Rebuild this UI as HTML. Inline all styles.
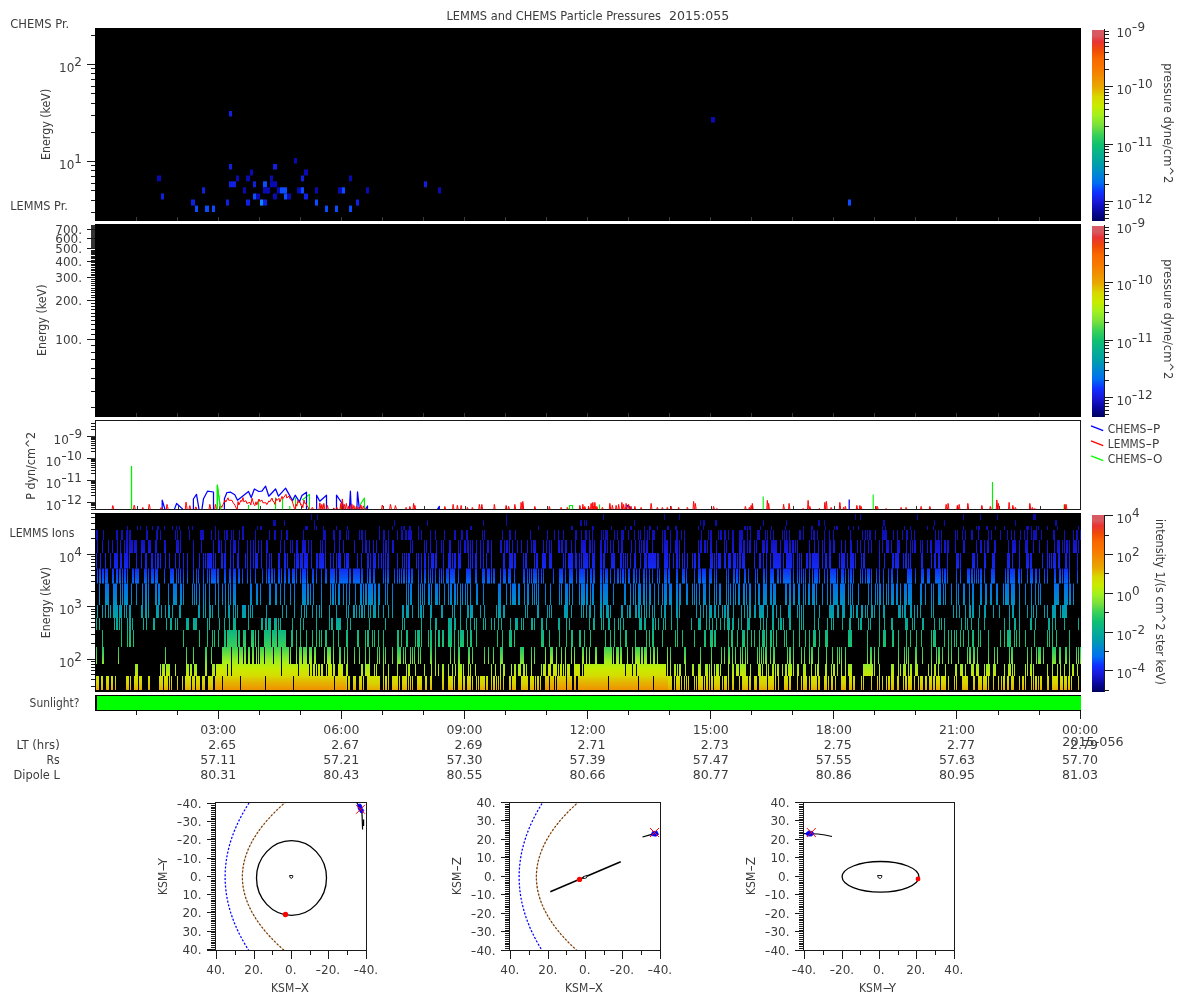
<!DOCTYPE html>
<html><head><meta charset="utf-8"><title>LEMMS and CHEMS Particle Pressures 2015:055</title>
<style>
html,body{margin:0;padding:0;background:#fff}
svg{display:block}
text{font-family:"DejaVu Sans","Liberation Sans",sans-serif;fill:#3c3c3c}
</style></head><body>
<svg width="1200" height="1000" viewBox="0 0 1200 1000">
<rect width="1200" height="1000" fill="#fff"/>
<defs>
<linearGradient id="cb" x1="0" y1="0" x2="0" y2="1">
<stop offset="0.0" stop-color="#d85a62"/>
<stop offset="0.03" stop-color="#d85a60"/>
<stop offset="0.06" stop-color="#e83434"/>
<stop offset="0.105" stop-color="#f04a08"/>
<stop offset="0.15" stop-color="#f86800"/>
<stop offset="0.2" stop-color="#f87800"/>
<stop offset="0.25" stop-color="#f09000"/>
<stop offset="0.3" stop-color="#e8a800"/>
<stop offset="0.35" stop-color="#d8d800"/>
<stop offset="0.4" stop-color="#c8ec00"/>
<stop offset="0.45" stop-color="#a0f020"/>
<stop offset="0.5" stop-color="#78e03c"/>
<stop offset="0.55" stop-color="#38d058"/>
<stop offset="0.6" stop-color="#10c070"/>
<stop offset="0.65" stop-color="#08b090"/>
<stop offset="0.7" stop-color="#00a0a8"/>
<stop offset="0.75" stop-color="#0088d0"/>
<stop offset="0.8" stop-color="#0070f0"/>
<stop offset="0.85" stop-color="#1030ff"/>
<stop offset="0.9" stop-color="#1818d8"/>
<stop offset="0.95" stop-color="#0808a0"/>
<stop offset="1.0" stop-color="#000060"/>
</linearGradient>
</defs>
<text y="20" font-size="12"><tspan x="446.5" textLength="214.4" lengthAdjust="spacingAndGlyphs">LEMMS and CHEMS Particle Pressures</tspan> <tspan x="669" textLength="60.2" lengthAdjust="spacingAndGlyphs">2015:055</tspan></text>
<text x="10.3" y="27.9" text-anchor="start" font-size="12" textLength="59" lengthAdjust="spacingAndGlyphs">CHEMS Pr.</text>
<text x="10.3" y="209.6" text-anchor="start" font-size="12" textLength="57.6" lengthAdjust="spacingAndGlyphs">LEMMS Pr.</text>
<text x="9.6" y="537" text-anchor="start" font-size="12" textLength="64.8" lengthAdjust="spacingAndGlyphs">LEMMS Ions</text>
<text x="29.6" y="706.8" text-anchor="start" font-size="12" textLength="49.8" lengthAdjust="spacingAndGlyphs">Sunlight?</text>
<rect x="95" y="28" width="986" height="193" fill="#000"/>
<rect x="91" y="35" width="4" height="1" fill="#1a1a1a"/>
<rect x="87" y="64" width="8" height="1" fill="#1a1a1a"/>
<rect x="91" y="68" width="4" height="1" fill="#1a1a1a"/>
<rect x="91" y="73" width="4" height="1" fill="#1a1a1a"/>
<rect x="91" y="79" width="4" height="1" fill="#1a1a1a"/>
<rect x="91" y="86" width="4" height="1" fill="#1a1a1a"/>
<rect x="91" y="93" width="4" height="1" fill="#1a1a1a"/>
<rect x="91" y="103" width="4" height="1" fill="#1a1a1a"/>
<rect x="91" y="115" width="4" height="1" fill="#1a1a1a"/>
<rect x="91" y="132" width="4" height="1" fill="#1a1a1a"/>
<rect x="87" y="161" width="8" height="1" fill="#1a1a1a"/>
<rect x="91" y="165" width="4" height="1" fill="#1a1a1a"/>
<rect x="91" y="170" width="4" height="1" fill="#1a1a1a"/>
<rect x="91" y="176" width="4" height="1" fill="#1a1a1a"/>
<rect x="91" y="183" width="4" height="1" fill="#1a1a1a"/>
<rect x="91" y="190" width="4" height="1" fill="#1a1a1a"/>
<rect x="91" y="200" width="4" height="1" fill="#1a1a1a"/>
<rect x="91" y="212" width="4" height="1" fill="#1a1a1a"/>
<text x="59.09" y="71.7" font-size="12">10<tspan dy="-6">2</tspan></text>
<text x="59.09" y="168.7" font-size="12">10<tspan dy="-6">1</tspan></text>
<text transform="translate(50 124.4) rotate(-90)" x="-35.65" y="0" font-size="12" textLength="71.3" lengthAdjust="spacingAndGlyphs">Energy (keV)</text>
<rect x="136" y="217" width="1" height="4" fill="#3a3a3a"/>
<rect x="177" y="217" width="1" height="4" fill="#3a3a3a"/>
<rect x="218" y="217" width="1" height="4" fill="#3a3a3a"/>
<rect x="259" y="217" width="1" height="4" fill="#3a3a3a"/>
<rect x="300" y="217" width="1" height="4" fill="#3a3a3a"/>
<rect x="341" y="217" width="1" height="4" fill="#3a3a3a"/>
<rect x="382" y="217" width="1" height="4" fill="#3a3a3a"/>
<rect x="423" y="217" width="1" height="4" fill="#3a3a3a"/>
<rect x="464" y="217" width="1" height="4" fill="#3a3a3a"/>
<rect x="505" y="217" width="1" height="4" fill="#3a3a3a"/>
<rect x="546" y="217" width="1" height="4" fill="#3a3a3a"/>
<rect x="587" y="217" width="1" height="4" fill="#3a3a3a"/>
<rect x="628" y="217" width="1" height="4" fill="#3a3a3a"/>
<rect x="669" y="217" width="1" height="4" fill="#3a3a3a"/>
<rect x="710" y="217" width="1" height="4" fill="#3a3a3a"/>
<rect x="751" y="217" width="1" height="4" fill="#3a3a3a"/>
<rect x="792" y="217" width="1" height="4" fill="#3a3a3a"/>
<rect x="833" y="217" width="1" height="4" fill="#3a3a3a"/>
<rect x="874" y="217" width="1" height="4" fill="#3a3a3a"/>
<rect x="915" y="217" width="1" height="4" fill="#3a3a3a"/>
<rect x="956" y="217" width="1" height="4" fill="#3a3a3a"/>
<rect x="998" y="217" width="1" height="4" fill="#3a3a3a"/>
<rect x="1039" y="217" width="1" height="4" fill="#3a3a3a"/>
<rect x="229" y="111" width="3" height="5.5" fill="#1020e0"/>
<rect x="711" y="117" width="4" height="5.5" fill="#0a0ab4"/>
<rect x="294" y="158" width="3" height="5.5" fill="#0a0ab4"/>
<rect x="229" y="164" width="3" height="5.5" fill="#1020e0"/>
<rect x="273" y="164" width="4" height="5.5" fill="#1020e0"/>
<rect x="250" y="169.5" width="3" height="6" fill="#0a0ab4"/>
<rect x="304" y="169.5" width="4" height="6" fill="#0a0ab4"/>
<rect x="157" y="175.5" width="4" height="5.8" fill="#0a0ab4"/>
<rect x="236" y="175.5" width="3" height="5.8" fill="#0a0ab4"/>
<rect x="246" y="175.5" width="4" height="5.8" fill="#0a0ab4"/>
<rect x="270" y="175.5" width="3" height="5.8" fill="#0a0ab4"/>
<rect x="301" y="175.5" width="3" height="5.8" fill="#1020e0"/>
<rect x="349" y="175.5" width="3" height="5.8" fill="#0a0ab4"/>
<rect x="229" y="181.3" width="7" height="6" fill="#1020e0"/>
<rect x="253" y="181.3" width="3" height="6" fill="#1020e0"/>
<rect x="263" y="181.3" width="4" height="6" fill="#0a4cff"/>
<rect x="270" y="181.3" width="7" height="6" fill="#0a0ab4"/>
<rect x="424" y="181.3" width="3" height="6" fill="#1020e0"/>
<rect x="202" y="187.3" width="3" height="6.2" fill="#1020e0"/>
<rect x="243" y="187.3" width="3" height="6.2" fill="#0a0ab4"/>
<rect x="263" y="187.3" width="7" height="6.2" fill="#0a0ab4"/>
<rect x="277" y="187.3" width="3" height="6.2" fill="#0a0ab4"/>
<rect x="280" y="187.3" width="7" height="6.2" fill="#0a4cff"/>
<rect x="297" y="187.3" width="4" height="6.2" fill="#0a0ab4"/>
<rect x="301" y="187.3" width="3" height="6.2" fill="#0a4cff"/>
<rect x="315" y="187.3" width="3" height="6.2" fill="#0a0ab4"/>
<rect x="338" y="187.3" width="4" height="6.2" fill="#0a0ab4"/>
<rect x="342" y="187.3" width="3" height="6.2" fill="#0a4cff"/>
<rect x="366" y="187.3" width="3" height="6.2" fill="#0a0ab4"/>
<rect x="438" y="187.3" width="3" height="6.2" fill="#0a0ab4"/>
<rect x="161" y="193.5" width="3" height="6" fill="#1020e0"/>
<rect x="253" y="193.5" width="3" height="6" fill="#0a4cff"/>
<rect x="256" y="193.5" width="4" height="6" fill="#0a0ab4"/>
<rect x="273" y="193.5" width="4" height="6" fill="#0a0ab4"/>
<rect x="284" y="193.5" width="3" height="6" fill="#0a4cff"/>
<rect x="287" y="193.5" width="4" height="6" fill="#0a0ab4"/>
<rect x="304" y="193.5" width="4" height="6" fill="#1020e0"/>
<rect x="191" y="199.5" width="4" height="6.1" fill="#1020e0"/>
<rect x="226" y="199.5" width="3" height="6.1" fill="#1020e0"/>
<rect x="246" y="199.5" width="4" height="6.1" fill="#1020e0"/>
<rect x="260" y="199.5" width="3" height="6.1" fill="#0a8cff"/>
<rect x="263" y="199.5" width="4" height="6.1" fill="#1020e0"/>
<rect x="315" y="199.5" width="3" height="6.1" fill="#0a4cff"/>
<rect x="356" y="199.5" width="3" height="6.1" fill="#1020e0"/>
<rect x="848" y="199.5" width="3" height="6.1" fill="#0a4cff"/>
<rect x="195" y="205.6" width="3" height="6.4" fill="#0a4cff"/>
<rect x="205" y="205.6" width="4" height="6.4" fill="#0a4cff"/>
<rect x="212" y="205.6" width="3" height="6.4" fill="#0a4cff"/>
<rect x="325" y="205.6" width="3" height="6.4" fill="#0a4cff"/>
<rect x="335" y="205.6" width="3" height="6.4" fill="#0a4cff"/>
<rect x="349" y="205.6" width="3" height="6.4" fill="#0a4cff"/>
<rect x="1092" y="30" width="12" height="191" fill="url(#cb)"/>
<rect x="1104" y="29" width="1" height="192" fill="#1a1a1a"/>
<rect x="1104" y="86" width="9" height="1" fill="#1a1a1a"/>
<rect x="1104" y="69" width="5" height="1" fill="#1a1a1a"/>
<rect x="1104" y="59" width="5" height="1" fill="#1a1a1a"/>
<rect x="1104" y="52" width="5" height="1" fill="#1a1a1a"/>
<rect x="1104" y="46" width="5" height="1" fill="#1a1a1a"/>
<rect x="1104" y="42" width="5" height="1" fill="#1a1a1a"/>
<rect x="1104" y="38" width="5" height="1" fill="#1a1a1a"/>
<rect x="1104" y="34" width="5" height="1" fill="#1a1a1a"/>
<rect x="1104" y="31" width="5" height="1" fill="#1a1a1a"/>
<rect x="1104" y="144" width="9" height="1" fill="#1a1a1a"/>
<rect x="1104" y="126" width="5" height="1" fill="#1a1a1a"/>
<rect x="1104" y="116" width="5" height="1" fill="#1a1a1a"/>
<rect x="1104" y="109" width="5" height="1" fill="#1a1a1a"/>
<rect x="1104" y="103" width="5" height="1" fill="#1a1a1a"/>
<rect x="1104" y="99" width="5" height="1" fill="#1a1a1a"/>
<rect x="1104" y="95" width="5" height="1" fill="#1a1a1a"/>
<rect x="1104" y="92" width="5" height="1" fill="#1a1a1a"/>
<rect x="1104" y="89" width="5" height="1" fill="#1a1a1a"/>
<rect x="1104" y="201" width="9" height="1" fill="#1a1a1a"/>
<rect x="1104" y="184" width="5" height="1" fill="#1a1a1a"/>
<rect x="1104" y="174" width="5" height="1" fill="#1a1a1a"/>
<rect x="1104" y="166" width="5" height="1" fill="#1a1a1a"/>
<rect x="1104" y="161" width="5" height="1" fill="#1a1a1a"/>
<rect x="1104" y="156" width="5" height="1" fill="#1a1a1a"/>
<rect x="1104" y="152" width="5" height="1" fill="#1a1a1a"/>
<rect x="1104" y="149" width="5" height="1" fill="#1a1a1a"/>
<rect x="1104" y="146" width="5" height="1" fill="#1a1a1a"/>
<rect x="1104" y="218" width="5" height="1" fill="#1a1a1a"/>
<rect x="1104" y="214" width="5" height="1" fill="#1a1a1a"/>
<rect x="1104" y="210" width="5" height="1" fill="#1a1a1a"/>
<rect x="1104" y="207" width="5" height="1" fill="#1a1a1a"/>
<rect x="1104" y="204" width="5" height="1" fill="#1a1a1a"/>
<text x="1116.6" y="36.7" font-size="12">10<tspan dy="-6" textLength="5.6" lengthAdjust="spacingAndGlyphs">-</tspan><tspan>9</tspan></text>
<text x="1116.6" y="93.7" font-size="12">10<tspan dy="-6" textLength="5.6" lengthAdjust="spacingAndGlyphs">-</tspan><tspan>10</tspan></text>
<text x="1116.6" y="151.7" font-size="12">10<tspan dy="-6" textLength="5.6" lengthAdjust="spacingAndGlyphs">-</tspan><tspan>11</tspan></text>
<text x="1116.6" y="208.7" font-size="12">10<tspan dy="-6" textLength="5.6" lengthAdjust="spacingAndGlyphs">-</tspan><tspan>12</tspan></text>
<text transform="translate(1164 123.3) rotate(90)" x="-60" y="0" font-size="12" textLength="120" lengthAdjust="spacingAndGlyphs">pressure dyne/cm^2</text>
<rect x="1092" y="226" width="12" height="191" fill="url(#cb)"/>
<rect x="1104" y="225" width="1" height="192" fill="#1a1a1a"/>
<rect x="1104" y="282" width="9" height="1" fill="#1a1a1a"/>
<rect x="1104" y="265" width="5" height="1" fill="#1a1a1a"/>
<rect x="1104" y="255" width="5" height="1" fill="#1a1a1a"/>
<rect x="1104" y="248" width="5" height="1" fill="#1a1a1a"/>
<rect x="1104" y="242" width="5" height="1" fill="#1a1a1a"/>
<rect x="1104" y="238" width="5" height="1" fill="#1a1a1a"/>
<rect x="1104" y="234" width="5" height="1" fill="#1a1a1a"/>
<rect x="1104" y="230" width="5" height="1" fill="#1a1a1a"/>
<rect x="1104" y="227" width="5" height="1" fill="#1a1a1a"/>
<rect x="1104" y="340" width="9" height="1" fill="#1a1a1a"/>
<rect x="1104" y="322" width="5" height="1" fill="#1a1a1a"/>
<rect x="1104" y="312" width="5" height="1" fill="#1a1a1a"/>
<rect x="1104" y="305" width="5" height="1" fill="#1a1a1a"/>
<rect x="1104" y="299" width="5" height="1" fill="#1a1a1a"/>
<rect x="1104" y="295" width="5" height="1" fill="#1a1a1a"/>
<rect x="1104" y="291" width="5" height="1" fill="#1a1a1a"/>
<rect x="1104" y="288" width="5" height="1" fill="#1a1a1a"/>
<rect x="1104" y="285" width="5" height="1" fill="#1a1a1a"/>
<rect x="1104" y="397" width="9" height="1" fill="#1a1a1a"/>
<rect x="1104" y="380" width="5" height="1" fill="#1a1a1a"/>
<rect x="1104" y="370" width="5" height="1" fill="#1a1a1a"/>
<rect x="1104" y="362" width="5" height="1" fill="#1a1a1a"/>
<rect x="1104" y="357" width="5" height="1" fill="#1a1a1a"/>
<rect x="1104" y="352" width="5" height="1" fill="#1a1a1a"/>
<rect x="1104" y="348" width="5" height="1" fill="#1a1a1a"/>
<rect x="1104" y="345" width="5" height="1" fill="#1a1a1a"/>
<rect x="1104" y="342" width="5" height="1" fill="#1a1a1a"/>
<rect x="1104" y="414" width="5" height="1" fill="#1a1a1a"/>
<rect x="1104" y="410" width="5" height="1" fill="#1a1a1a"/>
<rect x="1104" y="406" width="5" height="1" fill="#1a1a1a"/>
<rect x="1104" y="403" width="5" height="1" fill="#1a1a1a"/>
<rect x="1104" y="400" width="5" height="1" fill="#1a1a1a"/>
<text x="1116.6" y="232.7" font-size="12">10<tspan dy="-6" textLength="5.6" lengthAdjust="spacingAndGlyphs">-</tspan><tspan>9</tspan></text>
<text x="1116.6" y="289.7" font-size="12">10<tspan dy="-6" textLength="5.6" lengthAdjust="spacingAndGlyphs">-</tspan><tspan>10</tspan></text>
<text x="1116.6" y="347.7" font-size="12">10<tspan dy="-6" textLength="5.6" lengthAdjust="spacingAndGlyphs">-</tspan><tspan>11</tspan></text>
<text x="1116.6" y="404.7" font-size="12">10<tspan dy="-6" textLength="5.6" lengthAdjust="spacingAndGlyphs">-</tspan><tspan>12</tspan></text>
<text transform="translate(1164 319.3) rotate(90)" x="-60" y="0" font-size="12" textLength="120" lengthAdjust="spacingAndGlyphs">pressure dyne/cm^2</text>
<rect x="95" y="224" width="986" height="193" fill="#000"/>
<rect x="91" y="407" width="4" height="1" fill="#1a1a1a"/>
<rect x="91" y="391" width="4" height="1" fill="#1a1a1a"/>
<rect x="91" y="378" width="4" height="1" fill="#1a1a1a"/>
<rect x="91" y="368" width="4" height="1" fill="#1a1a1a"/>
<rect x="91" y="359" width="4" height="1" fill="#1a1a1a"/>
<rect x="91" y="352" width="4" height="1" fill="#1a1a1a"/>
<rect x="91" y="345" width="4" height="1" fill="#1a1a1a"/>
<rect x="91" y="339" width="4" height="1" fill="#1a1a1a"/>
<rect x="91" y="334" width="4" height="1" fill="#1a1a1a"/>
<rect x="91" y="329" width="4" height="1" fill="#1a1a1a"/>
<rect x="91" y="324" width="4" height="1" fill="#1a1a1a"/>
<rect x="91" y="320" width="4" height="1" fill="#1a1a1a"/>
<rect x="91" y="316" width="4" height="1" fill="#1a1a1a"/>
<rect x="91" y="313" width="4" height="1" fill="#1a1a1a"/>
<rect x="91" y="309" width="4" height="1" fill="#1a1a1a"/>
<rect x="91" y="306" width="4" height="1" fill="#1a1a1a"/>
<rect x="91" y="303" width="4" height="1" fill="#1a1a1a"/>
<rect x="91" y="300" width="4" height="1" fill="#1a1a1a"/>
<rect x="91" y="297" width="4" height="1" fill="#1a1a1a"/>
<rect x="91" y="295" width="4" height="1" fill="#1a1a1a"/>
<rect x="91" y="292" width="4" height="1" fill="#1a1a1a"/>
<rect x="91" y="290" width="4" height="1" fill="#1a1a1a"/>
<rect x="91" y="288" width="4" height="1" fill="#1a1a1a"/>
<rect x="91" y="285" width="4" height="1" fill="#1a1a1a"/>
<rect x="91" y="283" width="4" height="1" fill="#1a1a1a"/>
<rect x="91" y="281" width="4" height="1" fill="#1a1a1a"/>
<rect x="91" y="279" width="4" height="1" fill="#1a1a1a"/>
<rect x="91" y="277" width="4" height="1" fill="#1a1a1a"/>
<rect x="91" y="275" width="4" height="1" fill="#1a1a1a"/>
<rect x="91" y="274" width="4" height="1" fill="#1a1a1a"/>
<rect x="91" y="272" width="4" height="1" fill="#1a1a1a"/>
<rect x="91" y="270" width="4" height="1" fill="#1a1a1a"/>
<rect x="91" y="269" width="4" height="1" fill="#1a1a1a"/>
<rect x="91" y="267" width="4" height="1" fill="#1a1a1a"/>
<rect x="91" y="265" width="4" height="1" fill="#1a1a1a"/>
<rect x="91" y="264" width="4" height="1" fill="#1a1a1a"/>
<rect x="91" y="262" width="4" height="1" fill="#1a1a1a"/>
<rect x="91" y="261" width="4" height="1" fill="#1a1a1a"/>
<rect x="91" y="260" width="4" height="1" fill="#1a1a1a"/>
<rect x="91" y="258" width="4" height="1" fill="#1a1a1a"/>
<rect x="91" y="257" width="4" height="1" fill="#1a1a1a"/>
<rect x="91" y="256" width="4" height="1" fill="#1a1a1a"/>
<rect x="91" y="254" width="4" height="1" fill="#1a1a1a"/>
<rect x="91" y="253" width="4" height="1" fill="#1a1a1a"/>
<rect x="91" y="252" width="4" height="1" fill="#1a1a1a"/>
<rect x="91" y="251" width="4" height="1" fill="#1a1a1a"/>
<rect x="91" y="250" width="4" height="1" fill="#1a1a1a"/>
<rect x="91" y="248" width="4" height="1" fill="#1a1a1a"/>
<rect x="91" y="247" width="4" height="1" fill="#1a1a1a"/>
<rect x="91" y="246" width="4" height="1" fill="#1a1a1a"/>
<rect x="91" y="245" width="4" height="1" fill="#1a1a1a"/>
<rect x="91" y="244" width="4" height="1" fill="#1a1a1a"/>
<rect x="91" y="243" width="4" height="1" fill="#1a1a1a"/>
<rect x="91" y="242" width="4" height="1" fill="#1a1a1a"/>
<rect x="91" y="241" width="4" height="1" fill="#1a1a1a"/>
<rect x="91" y="240" width="4" height="1" fill="#1a1a1a"/>
<rect x="91" y="239" width="4" height="1" fill="#1a1a1a"/>
<rect x="91" y="238" width="4" height="1" fill="#1a1a1a"/>
<rect x="91" y="237" width="4" height="1" fill="#1a1a1a"/>
<rect x="91" y="236" width="4" height="1" fill="#1a1a1a"/>
<rect x="91" y="235" width="4" height="1" fill="#1a1a1a"/>
<rect x="91" y="234" width="4" height="1" fill="#1a1a1a"/>
<rect x="91" y="234" width="4" height="1" fill="#1a1a1a"/>
<rect x="91" y="233" width="4" height="1" fill="#1a1a1a"/>
<rect x="91" y="232" width="4" height="1" fill="#1a1a1a"/>
<rect x="91" y="231" width="4" height="1" fill="#1a1a1a"/>
<rect x="91" y="230" width="4" height="1" fill="#1a1a1a"/>
<rect x="91" y="229" width="4" height="1" fill="#1a1a1a"/>
<rect x="91" y="229" width="4" height="1" fill="#1a1a1a"/>
<rect x="91" y="228" width="4" height="1" fill="#1a1a1a"/>
<rect x="91" y="227" width="4" height="1" fill="#1a1a1a"/>
<rect x="91" y="226" width="4" height="1" fill="#1a1a1a"/>
<rect x="91" y="226" width="4" height="1" fill="#1a1a1a"/>
<rect x="91" y="225" width="4" height="24" fill="#333"/>
<rect x="87" y="339" width="8" height="1" fill="#1a1a1a"/>
<text x="82" y="343.5" text-anchor="end" font-size="12">100.</text>
<rect x="87" y="300" width="8" height="1" fill="#1a1a1a"/>
<text x="82" y="304.5" text-anchor="end" font-size="12">200.</text>
<rect x="87" y="277" width="8" height="1" fill="#1a1a1a"/>
<text x="82" y="281.5" text-anchor="end" font-size="12">300.</text>
<rect x="87" y="261" width="8" height="1" fill="#1a1a1a"/>
<text x="82" y="265.5" text-anchor="end" font-size="12">400.</text>
<rect x="87" y="248" width="8" height="1" fill="#1a1a1a"/>
<text x="82" y="252.5" text-anchor="end" font-size="12">500.</text>
<rect x="87" y="238" width="8" height="1" fill="#1a1a1a"/>
<text x="82" y="242.5" text-anchor="end" font-size="12">600.</text>
<rect x="87" y="229" width="8" height="1" fill="#1a1a1a"/>
<text x="82" y="233.5" text-anchor="end" font-size="12">700.</text>
<text transform="translate(46.3 320.2) rotate(-90)" x="-35.75" y="0" font-size="12" textLength="71.5" lengthAdjust="spacingAndGlyphs">Energy (keV)</text>
<rect x="136" y="413" width="1" height="4" fill="#3a3a3a"/>
<rect x="177" y="413" width="1" height="4" fill="#3a3a3a"/>
<rect x="218" y="413" width="1" height="4" fill="#3a3a3a"/>
<rect x="259" y="413" width="1" height="4" fill="#3a3a3a"/>
<rect x="300" y="413" width="1" height="4" fill="#3a3a3a"/>
<rect x="341" y="413" width="1" height="4" fill="#3a3a3a"/>
<rect x="382" y="413" width="1" height="4" fill="#3a3a3a"/>
<rect x="423" y="413" width="1" height="4" fill="#3a3a3a"/>
<rect x="464" y="413" width="1" height="4" fill="#3a3a3a"/>
<rect x="505" y="413" width="1" height="4" fill="#3a3a3a"/>
<rect x="546" y="413" width="1" height="4" fill="#3a3a3a"/>
<rect x="587" y="413" width="1" height="4" fill="#3a3a3a"/>
<rect x="628" y="413" width="1" height="4" fill="#3a3a3a"/>
<rect x="669" y="413" width="1" height="4" fill="#3a3a3a"/>
<rect x="710" y="413" width="1" height="4" fill="#3a3a3a"/>
<rect x="751" y="413" width="1" height="4" fill="#3a3a3a"/>
<rect x="792" y="413" width="1" height="4" fill="#3a3a3a"/>
<rect x="833" y="413" width="1" height="4" fill="#3a3a3a"/>
<rect x="874" y="413" width="1" height="4" fill="#3a3a3a"/>
<rect x="915" y="413" width="1" height="4" fill="#3a3a3a"/>
<rect x="956" y="413" width="1" height="4" fill="#3a3a3a"/>
<rect x="998" y="413" width="1" height="4" fill="#3a3a3a"/>
<rect x="1039" y="413" width="1" height="4" fill="#3a3a3a"/>
<rect x="95.5" y="420.5" width="985" height="89" fill="#fff" stroke="#1a1a1a" stroke-width="1"/>
<rect x="87" y="436" width="8" height="1" fill="#1a1a1a"/>
<rect x="91" y="436" width="4" height="3" fill="#333"/>
<text x="53.5" y="443.7" font-size="12">10<tspan dy="-6" textLength="5.6" lengthAdjust="spacingAndGlyphs">-</tspan><tspan>9</tspan></text>
<rect x="87" y="458" width="8" height="1" fill="#1a1a1a"/>
<rect x="91" y="458" width="4" height="3" fill="#333"/>
<text x="45.86" y="465.7" font-size="12">10<tspan dy="-6" textLength="5.6" lengthAdjust="spacingAndGlyphs">-</tspan><tspan>10</tspan></text>
<rect x="87" y="480" width="8" height="1" fill="#1a1a1a"/>
<rect x="91" y="480" width="4" height="3" fill="#333"/>
<text x="45.86" y="487.7" font-size="12">10<tspan dy="-6" textLength="5.6" lengthAdjust="spacingAndGlyphs">-</tspan><tspan>11</tspan></text>
<rect x="87" y="502" width="8" height="1" fill="#1a1a1a"/>
<rect x="91" y="502" width="4" height="3" fill="#333"/>
<text x="45.86" y="509.7" font-size="12">10<tspan dy="-6" textLength="5.6" lengthAdjust="spacingAndGlyphs">-</tspan><tspan>12</tspan></text>
<rect x="91" y="509" width="4" height="1" fill="#1a1a1a"/>
<rect x="91" y="507" width="4" height="1" fill="#1a1a1a"/>
<rect x="91" y="505" width="4" height="1" fill="#1a1a1a"/>
<rect x="91" y="504" width="4" height="1" fill="#1a1a1a"/>
<rect x="91" y="503" width="4" height="1" fill="#1a1a1a"/>
<rect x="91" y="495" width="4" height="1" fill="#1a1a1a"/>
<rect x="91" y="492" width="4" height="1" fill="#1a1a1a"/>
<rect x="91" y="489" width="4" height="1" fill="#1a1a1a"/>
<rect x="91" y="487" width="4" height="1" fill="#1a1a1a"/>
<rect x="91" y="485" width="4" height="1" fill="#1a1a1a"/>
<rect x="91" y="483" width="4" height="1" fill="#1a1a1a"/>
<rect x="91" y="482" width="4" height="1" fill="#1a1a1a"/>
<rect x="91" y="481" width="4" height="1" fill="#1a1a1a"/>
<rect x="91" y="473" width="4" height="1" fill="#1a1a1a"/>
<rect x="91" y="470" width="4" height="1" fill="#1a1a1a"/>
<rect x="91" y="467" width="4" height="1" fill="#1a1a1a"/>
<rect x="91" y="465" width="4" height="1" fill="#1a1a1a"/>
<rect x="91" y="463" width="4" height="1" fill="#1a1a1a"/>
<rect x="91" y="461" width="4" height="1" fill="#1a1a1a"/>
<rect x="91" y="460" width="4" height="1" fill="#1a1a1a"/>
<rect x="91" y="459" width="4" height="1" fill="#1a1a1a"/>
<rect x="91" y="451" width="4" height="1" fill="#1a1a1a"/>
<rect x="91" y="448" width="4" height="1" fill="#1a1a1a"/>
<rect x="91" y="445" width="4" height="1" fill="#1a1a1a"/>
<rect x="91" y="443" width="4" height="1" fill="#1a1a1a"/>
<rect x="91" y="441" width="4" height="1" fill="#1a1a1a"/>
<rect x="91" y="439" width="4" height="1" fill="#1a1a1a"/>
<rect x="91" y="438" width="4" height="1" fill="#1a1a1a"/>
<rect x="91" y="437" width="4" height="1" fill="#1a1a1a"/>
<rect x="91" y="429" width="4" height="1" fill="#1a1a1a"/>
<rect x="91" y="426" width="4" height="1" fill="#1a1a1a"/>
<rect x="91" y="423" width="4" height="1" fill="#1a1a1a"/>
<text transform="translate(35 465.8) rotate(-90)" x="-34" y="0" font-size="12" textLength="68" lengthAdjust="spacingAndGlyphs">P dyn/cm^2</text>
<rect x="137" y="506" width="1" height="3" fill="#333"/>
<rect x="178" y="506" width="1" height="3" fill="#333"/>
<rect x="219" y="506" width="1" height="3" fill="#333"/>
<rect x="260" y="506" width="1" height="3" fill="#333"/>
<rect x="301" y="506" width="1" height="3" fill="#333"/>
<rect x="342" y="506" width="1" height="3" fill="#333"/>
<rect x="383" y="506" width="1" height="3" fill="#333"/>
<rect x="424" y="506" width="1" height="3" fill="#333"/>
<rect x="465" y="506" width="1" height="3" fill="#333"/>
<rect x="506" y="506" width="1" height="3" fill="#333"/>
<rect x="547" y="506" width="1" height="3" fill="#333"/>
<rect x="588" y="506" width="1" height="3" fill="#333"/>
<rect x="629" y="506" width="1" height="3" fill="#333"/>
<rect x="670" y="506" width="1" height="3" fill="#333"/>
<rect x="711" y="506" width="1" height="3" fill="#333"/>
<rect x="752" y="506" width="1" height="3" fill="#333"/>
<rect x="793" y="506" width="1" height="3" fill="#333"/>
<rect x="834" y="506" width="1" height="3" fill="#333"/>
<rect x="875" y="506" width="1" height="3" fill="#333"/>
<rect x="916" y="506" width="1" height="3" fill="#333"/>
<rect x="957" y="506" width="1" height="3" fill="#333"/>
<rect x="999" y="506" width="1" height="3" fill="#333"/>
<rect x="1040" y="506" width="1" height="3" fill="#333"/>
<clipPath id="p3clip"><rect x="96" y="421" width="984" height="88.5"/></clipPath>
<g clip-path="url(#p3clip)">
<polyline points="131.5,509.4 131.5,466" fill="none" stroke="#00f000" stroke-width="1.15" stroke-linejoin="round"/>
<polyline points="217.3,509.4 217.3,485 220.6,509.4" fill="none" stroke="#00f000" stroke-width="1.15" stroke-linejoin="round"/>
<polyline points="248.5,509.4 248.5,505" fill="none" stroke="#00f000" stroke-width="1.15" stroke-linejoin="round"/>
<polyline points="258.5,509.4 258.5,500" fill="none" stroke="#00f000" stroke-width="1.15" stroke-linejoin="round"/>
<polyline points="275.6,509.4 275.6,497.5" fill="none" stroke="#00f000" stroke-width="1.15" stroke-linejoin="round"/>
<polyline points="282.5,509.4 282.5,499" fill="none" stroke="#00f000" stroke-width="1.15" stroke-linejoin="round"/>
<polyline points="289.8,509.4 289.8,506" fill="none" stroke="#00f000" stroke-width="1.15" stroke-linejoin="round"/>
<polyline points="295.6,509.4 295.6,497.5" fill="none" stroke="#00f000" stroke-width="1.15" stroke-linejoin="round"/>
<polyline points="340.6,509.4 340.6,505.6" fill="none" stroke="#00f000" stroke-width="1.15" stroke-linejoin="round"/>
<polyline points="599.5,509.4 599.5,504.5" fill="none" stroke="#00f000" stroke-width="1.15" stroke-linejoin="round"/>
<polyline points="763.2,509.4 763.2,496.4" fill="none" stroke="#00f000" stroke-width="1.15" stroke-linejoin="round"/>
<polyline points="873.2,509.4 873.2,494.4" fill="none" stroke="#00f000" stroke-width="1.15" stroke-linejoin="round"/>
<polyline points="992.5,509.4 992.5,482" fill="none" stroke="#00f000" stroke-width="1.15" stroke-linejoin="round"/>
<polyline points="1064.2,509.4 1064.2,504.5" fill="none" stroke="#00f000" stroke-width="1.15" stroke-linejoin="round"/>
<polyline points="302.2,500 309.4,494.4 309.4,509.4" fill="none" stroke="#00f000" stroke-width="1.15" stroke-linejoin="round"/>
<polyline points="360,505 364.4,498 364.4,509.4" fill="none" stroke="#00f000" stroke-width="1.15" stroke-linejoin="round"/>
<polyline points="569.5,509.4 569.5,505.5 572.5,505.5 572.5,509.4" fill="none" stroke="#00f000" stroke-width="1.15" stroke-linejoin="round"/>
<polyline points="162.2,509.4 162.2,500.2 165,509.4" fill="none" stroke="#0000ff" stroke-width="1.25" stroke-linejoin="round"/>
<polyline points="174.4,509.4 176.6,503.5 183,509.4" fill="none" stroke="#0000ff" stroke-width="1.25" stroke-linejoin="round"/>
<polyline points="193.4,509.4 193.4,499 196.5,494.4 199,509.4" fill="none" stroke="#0000ff" stroke-width="1.25" stroke-linejoin="round"/>
<polyline points="201.9,509.4 203.5,498.8 207.5,491.2 213.5,492 213.5,509.4" fill="none" stroke="#0000ff" stroke-width="1.25" stroke-linejoin="round"/>
<polyline points="224.4,509.4 224.4,498.8 226.9,492.5 230.6,492.2 234.8,494.8 237.5,500.2 248.5,491.5 251.2,497.5 254.4,489 258.8,491.5 261.9,491.2 265.6,486.2 268.8,496.2 275.6,489 278.5,496.2 285.6,488.1 292.5,500.6 295.2,495.2 299.4,501.9 301.9,495.6 306.5,492.2 306.5,509.4" fill="none" stroke="#0000ff" stroke-width="1.25" stroke-linejoin="round"/>
<polyline points="316.6,509.4 316.6,495.2 319.8,501.2 326.5,495.2 326.5,509.4" fill="none" stroke="#0000ff" stroke-width="1.25" stroke-linejoin="round"/>
<polyline points="336.5,509.4 336.5,495.2 342.5,504 344,509.4" fill="none" stroke="#0000ff" stroke-width="1.25" stroke-linejoin="round"/>
<polyline points="349.4,509.4 350.4,491.2 351.2,509.4" fill="none" stroke="#0000ff" stroke-width="1.25" stroke-linejoin="round"/>
<polyline points="356.9,509.4 357.5,491.9 359.4,509.4" fill="none" stroke="#0000ff" stroke-width="1.25" stroke-linejoin="round"/>
<polyline points="365.6,508.8 367.5,506 367.5,509.4" fill="none" stroke="#0000ff" stroke-width="1.25" stroke-linejoin="round"/>
<polyline points="437.5,509.4 439.3,506.3 439.3,509.4" fill="none" stroke="#0000ff" stroke-width="1.25" stroke-linejoin="round"/>
<polyline points="626,509.4 627.5,505.5 630,507 631,509.4" fill="none" stroke="#0000ff" stroke-width="1.25" stroke-linejoin="round"/>
<polyline points="849.2,509.4 849.2,499.4" fill="none" stroke="#0000ff" stroke-width="1.25" stroke-linejoin="round"/>
<polyline points="112,509.4 112.8,505.6 113.4,507.3 113.8,509.4" fill="none" stroke="#ff0000" stroke-width="1.0" stroke-linejoin="round"/>
<polyline points="133.4,509.4 134.2,505.2 134.8,507.1 135.2,509.4" fill="none" stroke="#ff0000" stroke-width="1.0" stroke-linejoin="round"/>
<polyline points="142,509.4 142.8,507.5 143.4,508.4 143.8,509.4" fill="none" stroke="#ff0000" stroke-width="1.0" stroke-linejoin="round"/>
<polyline points="148.4,509.4 149.2,504.4 149.8,506.6 150.2,509.4" fill="none" stroke="#ff0000" stroke-width="1.0" stroke-linejoin="round"/>
<polyline points="160.3,509.4 161.1,507.5 161.7,508.4 162.1,509.4" fill="none" stroke="#ff0000" stroke-width="1.0" stroke-linejoin="round"/>
<polyline points="166.3,509.4 167,504.4 167.6,506.6 168.1,509.4" fill="none" stroke="#ff0000" stroke-width="1.0" stroke-linejoin="round"/>
<polyline points="185.3,509.4 186,502.2 186.6,505.4 187.1,509.4" fill="none" stroke="#ff0000" stroke-width="1.0" stroke-linejoin="round"/>
<polyline points="189,509.4 189.8,505.6 190.4,507.3 190.8,509.4" fill="none" stroke="#ff0000" stroke-width="1.0" stroke-linejoin="round"/>
<polyline points="195,509.4 195.8,506.9 196.4,508 196.8,509.4" fill="none" stroke="#ff0000" stroke-width="1.0" stroke-linejoin="round"/>
<polyline points="209,509.4 209.8,504.4 210.4,506.6 210.8,509.4" fill="none" stroke="#ff0000" stroke-width="1.0" stroke-linejoin="round"/>
<polyline points="214.6,509.4 215.4,504.4 216,506.6 216.4,509.4" fill="none" stroke="#ff0000" stroke-width="1.0" stroke-linejoin="round"/>
<polyline points="220.5,509.4 221,505.8 221.8,507.3 225,500.1 225.8,502.1 228,497.8 228.8,500.3 232,500.3 232.8,502.2 235,505.3 235.8,507 236.5,508.8 237.3,509.4 238,501.6 238.8,505 241,500.2 241.8,501.5 243,497.6 243.8,501.8 246,500.7 246.8,503.4 250,502.4 250.8,505 252,498.2 252.8,501.1 254,504.6 254.8,505.7 256,501.8 256.8,504.9 259,499 259.8,501.4 262,500.1 262.8,502.8 266,502.8 266.8,504.6 269,500.8 269.8,501.9 272,498 272.8,501 274,501.8 274.8,504.4 276,498.5 276.8,500.6 279,498.3 279.8,502.1 282,496.4 282.8,498.8 286,494.3 286.8,498.1 289,495.9 289.8,498.6 292,500.4 292.8,503.2 294.5,508.6 295.3,509.4 296,504.1 296.8,506.1 298,500.3 298.8,502.6 300,501.9 300.8,505.3 302,504.6 302.8,507.7 304,500 304.8,503.4 306,503.2 306.8,506 308,506.7 308.8,509.4 309.5,509.5 310.3,509.4 310,509.4" fill="none" stroke="#ff0000" stroke-width="1.0" stroke-linejoin="round"/>
<polyline points="311.5,509.4 312.3,507.4 312.9,508.3 313.3,509.4" fill="none" stroke="#ff0000" stroke-width="1.0" stroke-linejoin="round"/>
<polyline points="319,509.4 319.8,502.9 320.4,505.8 320.8,509.4" fill="none" stroke="#ff0000" stroke-width="1.0" stroke-linejoin="round"/>
<polyline points="321,509.4 321.8,504.4 322.4,506.6 322.8,509.4" fill="none" stroke="#ff0000" stroke-width="1.0" stroke-linejoin="round"/>
<polyline points="323,509.4 323.8,503.4 324.4,506.1 324.8,509.4" fill="none" stroke="#ff0000" stroke-width="1.0" stroke-linejoin="round"/>
<polyline points="326.5,509.4 327.3,505.4 327.9,507.2 328.3,509.4" fill="none" stroke="#ff0000" stroke-width="1.0" stroke-linejoin="round"/>
<polyline points="333,509.4 333.8,507.9 334.4,508.6 334.8,509.4" fill="none" stroke="#ff0000" stroke-width="1.0" stroke-linejoin="round"/>
<polyline points="336,509.4 336.8,507.4 337.4,508.3 337.8,509.4" fill="none" stroke="#ff0000" stroke-width="1.0" stroke-linejoin="round"/>
<polyline points="340,509.4 340.8,503.4 341.4,506.1 341.8,509.4" fill="none" stroke="#ff0000" stroke-width="1.0" stroke-linejoin="round"/>
<polyline points="341.5,509.4 342.3,498.9 342.9,503.6 343.3,509.4" fill="none" stroke="#ff0000" stroke-width="1.0" stroke-linejoin="round"/>
<polyline points="343.5,509.4 344.3,504.4 344.9,506.6 345.3,509.4" fill="none" stroke="#ff0000" stroke-width="1.0" stroke-linejoin="round"/>
<polyline points="345.5,509.4 346.3,503.4 346.9,506.1 347.3,509.4" fill="none" stroke="#ff0000" stroke-width="1.0" stroke-linejoin="round"/>
<polyline points="348,509.4 348.8,505.9 349.4,507.5 349.8,509.4" fill="none" stroke="#ff0000" stroke-width="1.0" stroke-linejoin="round"/>
<polyline points="351,509.4 351.8,503.9 352.4,506.4 352.8,509.4" fill="none" stroke="#ff0000" stroke-width="1.0" stroke-linejoin="round"/>
<polyline points="353,509.4 353.8,505.4 354.4,507.2 354.8,509.4" fill="none" stroke="#ff0000" stroke-width="1.0" stroke-linejoin="round"/>
<polyline points="355.5,509.4 356.3,506.4 356.9,507.8 357.3,509.4" fill="none" stroke="#ff0000" stroke-width="1.0" stroke-linejoin="round"/>
<polyline points="357.5,509.4 358.3,507.4 358.9,508.3 359.3,509.4" fill="none" stroke="#ff0000" stroke-width="1.0" stroke-linejoin="round"/>
<polyline points="360,509.4 360.8,504.9 361.4,506.9 361.8,509.4" fill="none" stroke="#ff0000" stroke-width="1.0" stroke-linejoin="round"/>
<polyline points="362.5,509.4 363.3,505.9 363.9,507.5 364.3,509.4" fill="none" stroke="#ff0000" stroke-width="1.0" stroke-linejoin="round"/>
<polyline points="365.5,509.4 366.3,508.4 366.9,508.8 367.3,509.4" fill="none" stroke="#ff0000" stroke-width="1.0" stroke-linejoin="round"/>
<polyline points="381.5,509.4 382.3,505 382.9,507 383.3,509.4" fill="none" stroke="#ff0000" stroke-width="1.0" stroke-linejoin="round"/>
<polyline points="389.6,509.4 390.4,504.4 391,506.6 391.4,509.4" fill="none" stroke="#ff0000" stroke-width="1.0" stroke-linejoin="round"/>
<polyline points="394.6,509.4 395.4,505.6 396,507.3 396.4,509.4" fill="none" stroke="#ff0000" stroke-width="1.0" stroke-linejoin="round"/>
<polyline points="405.5,509.4 406.1,507.4 406.5,508.3 406.9,509.4" fill="none" stroke="#ff0000" stroke-width="1.0" stroke-linejoin="round"/>
<polyline points="409.3,509.4 409.8,506.4 410.3,507.8 410.6,509.4" fill="none" stroke="#ff0000" stroke-width="1.0" stroke-linejoin="round"/>
<polyline points="413,509.4 413.6,503.4 414,506.1 414.4,509.4" fill="none" stroke="#ff0000" stroke-width="1.0" stroke-linejoin="round"/>
<polyline points="414.3,509.4 414.8,505.4 415.3,507.2 415.6,509.4" fill="none" stroke="#ff0000" stroke-width="1.0" stroke-linejoin="round"/>
<polyline points="444.3,509.4 444.8,506.4 445.3,507.8 445.6,509.4" fill="none" stroke="#ff0000" stroke-width="1.0" stroke-linejoin="round"/>
<polyline points="452.5,509.4 453.1,504.4 453.5,506.6 453.9,509.4" fill="none" stroke="#ff0000" stroke-width="1.0" stroke-linejoin="round"/>
<polyline points="456.8,509.4 457.3,505.4 457.8,507.2 458.1,509.4" fill="none" stroke="#ff0000" stroke-width="1.0" stroke-linejoin="round"/>
<polyline points="460.5,509.4 461.1,505.4 461.5,507.2 461.9,509.4" fill="none" stroke="#ff0000" stroke-width="1.0" stroke-linejoin="round"/>
<polyline points="466.8,509.4 467.3,507.4 467.8,508.3 468.1,509.4" fill="none" stroke="#ff0000" stroke-width="1.0" stroke-linejoin="round"/>
<polyline points="471.8,509.4 472.3,507.4 472.8,508.3 473.1,509.4" fill="none" stroke="#ff0000" stroke-width="1.0" stroke-linejoin="round"/>
<polyline points="478.8,509.4 479.3,504.4 479.8,506.6 480.1,509.4" fill="none" stroke="#ff0000" stroke-width="1.0" stroke-linejoin="round"/>
<polyline points="481.3,509.4 481.8,504.4 482.3,506.6 482.6,509.4" fill="none" stroke="#ff0000" stroke-width="1.0" stroke-linejoin="round"/>
<polyline points="493.8,509.4 494.3,504.4 494.8,506.6 495.1,509.4" fill="none" stroke="#ff0000" stroke-width="1.0" stroke-linejoin="round"/>
<polyline points="505.5,509.4 506.1,505.4 506.5,507.2 506.9,509.4" fill="none" stroke="#ff0000" stroke-width="1.0" stroke-linejoin="round"/>
<polyline points="508,509.4 508.6,506.4 509,507.8 509.4,509.4" fill="none" stroke="#ff0000" stroke-width="1.0" stroke-linejoin="round"/>
<polyline points="514.3,509.4 514.8,504.4 515.3,506.6 515.6,509.4" fill="none" stroke="#ff0000" stroke-width="1.0" stroke-linejoin="round"/>
<polyline points="520.5,509.4 521.1,502.4 521.5,505.5 521.9,509.4" fill="none" stroke="#ff0000" stroke-width="1.0" stroke-linejoin="round"/>
<polyline points="522.3,509.4 522.8,501.4 523.3,505 523.6,509.4" fill="none" stroke="#ff0000" stroke-width="1.0" stroke-linejoin="round"/>
<polyline points="534.3,509.4 534.8,506.4 535.3,507.8 535.6,509.4" fill="none" stroke="#ff0000" stroke-width="1.0" stroke-linejoin="round"/>
<polyline points="548.8,509.4 549.3,506.4 549.8,507.8 550.1,509.4" fill="none" stroke="#ff0000" stroke-width="1.0" stroke-linejoin="round"/>
<polyline points="560.5,509.4 561.1,507.4 561.5,508.3 561.9,509.4" fill="none" stroke="#ff0000" stroke-width="1.0" stroke-linejoin="round"/>
<polyline points="566.8,509.4 567.3,507.4 567.8,508.3 568.1,509.4" fill="none" stroke="#ff0000" stroke-width="1.0" stroke-linejoin="round"/>
<polyline points="579.3,509.4 579.8,505.4 580.3,507.2 580.6,509.4" fill="none" stroke="#ff0000" stroke-width="1.0" stroke-linejoin="round"/>
<polyline points="582.3,509.4 582.8,504.4 583.3,506.6 583.6,509.4" fill="none" stroke="#ff0000" stroke-width="1.0" stroke-linejoin="round"/>
<polyline points="584.3,509.4 584.8,506.4 585.3,507.8 585.6,509.4" fill="none" stroke="#ff0000" stroke-width="1.0" stroke-linejoin="round"/>
<polyline points="588,509.4 588.6,506.4 589,507.8 589.4,509.4" fill="none" stroke="#ff0000" stroke-width="1.0" stroke-linejoin="round"/>
<polyline points="590.5,509.4 591.1,503.4 591.5,506.1 591.9,509.4" fill="none" stroke="#ff0000" stroke-width="1.0" stroke-linejoin="round"/>
<polyline points="592.3,509.4 592.8,502.4 593.3,505.5 593.6,509.4" fill="none" stroke="#ff0000" stroke-width="1.0" stroke-linejoin="round"/>
<polyline points="594.3,509.4 594.8,502.4 595.3,505.5 595.6,509.4" fill="none" stroke="#ff0000" stroke-width="1.0" stroke-linejoin="round"/>
<polyline points="596.3,509.4 596.8,506.4 597.3,507.8 597.6,509.4" fill="none" stroke="#ff0000" stroke-width="1.0" stroke-linejoin="round"/>
<polyline points="601.8,509.4 602.3,507.4 602.8,508.3 603.1,509.4" fill="none" stroke="#ff0000" stroke-width="1.0" stroke-linejoin="round"/>
<polyline points="609.3,509.4 609.8,503.4 610.3,506.1 610.6,509.4" fill="none" stroke="#ff0000" stroke-width="1.0" stroke-linejoin="round"/>
<polyline points="611.8,509.4 612.3,505.4 612.8,507.2 613.1,509.4" fill="none" stroke="#ff0000" stroke-width="1.0" stroke-linejoin="round"/>
<polyline points="615.5,509.4 616.1,505.4 616.5,507.2 616.9,509.4" fill="none" stroke="#ff0000" stroke-width="1.0" stroke-linejoin="round"/>
<polyline points="618,509.4 618.6,504.4 619,506.6 619.4,509.4" fill="none" stroke="#ff0000" stroke-width="1.0" stroke-linejoin="round"/>
<polyline points="621.3,509.4 621.8,502.4 622.3,505.5 622.6,509.4" fill="none" stroke="#ff0000" stroke-width="1.0" stroke-linejoin="round"/>
<polyline points="623,509.4 623.6,504.4 624,506.6 624.4,509.4" fill="none" stroke="#ff0000" stroke-width="1.0" stroke-linejoin="round"/>
<polyline points="625.5,509.4 626.1,503.4 626.5,506.1 626.9,509.4" fill="none" stroke="#ff0000" stroke-width="1.0" stroke-linejoin="round"/>
<polyline points="628,509.4 628.6,504.4 629,506.6 629.4,509.4" fill="none" stroke="#ff0000" stroke-width="1.0" stroke-linejoin="round"/>
<polyline points="630.5,509.4 631.1,506.4 631.5,507.8 631.9,509.4" fill="none" stroke="#ff0000" stroke-width="1.0" stroke-linejoin="round"/>
<polyline points="634.3,509.4 634.8,506.4 635.3,507.8 635.6,509.4" fill="none" stroke="#ff0000" stroke-width="1.0" stroke-linejoin="round"/>
<polyline points="640.5,509.4 641.1,507.4 641.5,508.3 641.9,509.4" fill="none" stroke="#ff0000" stroke-width="1.0" stroke-linejoin="round"/>
<polyline points="650.5,509.4 651.1,503.4 651.5,506.1 651.9,509.4" fill="none" stroke="#ff0000" stroke-width="1.0" stroke-linejoin="round"/>
<polyline points="656.8,509.4 657.3,507.4 657.8,508.3 658.1,509.4" fill="none" stroke="#ff0000" stroke-width="1.0" stroke-linejoin="round"/>
<polyline points="661.8,509.4 662.3,507.4 662.8,508.3 663.1,509.4" fill="none" stroke="#ff0000" stroke-width="1.0" stroke-linejoin="round"/>
<polyline points="666.8,509.4 667.3,507.4 667.8,508.3 668.1,509.4" fill="none" stroke="#ff0000" stroke-width="1.0" stroke-linejoin="round"/>
<polyline points="670.5,509.4 671.1,506.4 671.5,507.8 671.9,509.4" fill="none" stroke="#ff0000" stroke-width="1.0" stroke-linejoin="round"/>
<polyline points="678,509.4 678.6,507.4 679,508.3 679.4,509.4" fill="none" stroke="#ff0000" stroke-width="1.0" stroke-linejoin="round"/>
<polyline points="686.8,509.4 687.3,507.4 687.8,508.3 688.1,509.4" fill="none" stroke="#ff0000" stroke-width="1.0" stroke-linejoin="round"/>
<polyline points="693,509.4 693.6,501.4 694,505 694.4,509.4" fill="none" stroke="#ff0000" stroke-width="1.0" stroke-linejoin="round"/>
<polyline points="694.8,509.4 695.3,503.4 695.8,506.1 696.1,509.4" fill="none" stroke="#ff0000" stroke-width="1.0" stroke-linejoin="round"/>
<polyline points="713,509.4 713.6,506.4 714,507.8 714.4,509.4" fill="none" stroke="#ff0000" stroke-width="1.0" stroke-linejoin="round"/>
<polyline points="716.3,509.4 716.8,508.4 717.3,508.8 717.6,509.4" fill="none" stroke="#ff0000" stroke-width="1.0" stroke-linejoin="round"/>
<polyline points="744.8,509.4 745.3,506.4 745.8,507.8 746.1,509.4" fill="none" stroke="#ff0000" stroke-width="1.0" stroke-linejoin="round"/>
<polyline points="748.8,509.4 749.3,507.4 749.8,508.3 750.1,509.4" fill="none" stroke="#ff0000" stroke-width="1.0" stroke-linejoin="round"/>
<polyline points="750.5,509.4 751.1,505.4 751.5,507.2 751.9,509.4" fill="none" stroke="#ff0000" stroke-width="1.0" stroke-linejoin="round"/>
<polyline points="751.8,509.4 752.3,503.4 752.8,506.1 753.1,509.4" fill="none" stroke="#ff0000" stroke-width="1.0" stroke-linejoin="round"/>
<polyline points="766.8,509.4 767.3,500.4 767.8,504.4 768.1,509.4" fill="none" stroke="#ff0000" stroke-width="1.0" stroke-linejoin="round"/>
<polyline points="768,509.4 768.6,503.4 769,506.1 769.4,509.4" fill="none" stroke="#ff0000" stroke-width="1.0" stroke-linejoin="round"/>
<polyline points="783,509.4 783.6,504.4 784,506.6 784.4,509.4" fill="none" stroke="#ff0000" stroke-width="1.0" stroke-linejoin="round"/>
<polyline points="788.5,509.4 789.1,503.4 789.5,506.1 789.9,509.4" fill="none" stroke="#ff0000" stroke-width="1.0" stroke-linejoin="round"/>
<polyline points="802.5,509.4 803.1,508.4 803.5,508.8 803.9,509.4" fill="none" stroke="#ff0000" stroke-width="1.0" stroke-linejoin="round"/>
<polyline points="807.5,509.4 808.1,500.4 808.5,504.4 808.9,509.4" fill="none" stroke="#ff0000" stroke-width="1.0" stroke-linejoin="round"/>
<polyline points="809.3,509.4 809.8,506.4 810.3,507.8 810.6,509.4" fill="none" stroke="#ff0000" stroke-width="1.0" stroke-linejoin="round"/>
<polyline points="818.8,509.4 819.3,508.4 819.8,508.8 820.1,509.4" fill="none" stroke="#ff0000" stroke-width="1.0" stroke-linejoin="round"/>
<polyline points="824.3,509.4 824.8,502.4 825.3,505.5 825.6,509.4" fill="none" stroke="#ff0000" stroke-width="1.0" stroke-linejoin="round"/>
<polyline points="825.8,509.4 826.3,501.4 826.8,505 827.1,509.4" fill="none" stroke="#ff0000" stroke-width="1.0" stroke-linejoin="round"/>
<polyline points="830.5,509.4 831.1,507.4 831.5,508.3 831.9,509.4" fill="none" stroke="#ff0000" stroke-width="1.0" stroke-linejoin="round"/>
<polyline points="839.3,509.4 839.8,502.4 840.3,505.5 840.6,509.4" fill="none" stroke="#ff0000" stroke-width="1.0" stroke-linejoin="round"/>
<polyline points="843,509.4 843.6,507.4 844,508.3 844.4,509.4" fill="none" stroke="#ff0000" stroke-width="1.0" stroke-linejoin="round"/>
<polyline points="844.8,509.4 845.3,506.4 845.8,507.8 846.1,509.4" fill="none" stroke="#ff0000" stroke-width="1.0" stroke-linejoin="round"/>
<polyline points="856.3,509.4 856.8,505.4 857.3,507.2 857.6,509.4" fill="none" stroke="#ff0000" stroke-width="1.0" stroke-linejoin="round"/>
<polyline points="859.3,509.4 859.8,505.4 860.3,507.2 860.6,509.4" fill="none" stroke="#ff0000" stroke-width="1.0" stroke-linejoin="round"/>
<polyline points="860.5,509.4 861.1,506.4 861.5,507.8 861.9,509.4" fill="none" stroke="#ff0000" stroke-width="1.0" stroke-linejoin="round"/>
<polyline points="875.5,509.4 876.1,506.4 876.5,507.8 876.9,509.4" fill="none" stroke="#ff0000" stroke-width="1.0" stroke-linejoin="round"/>
<polyline points="876.8,509.4 877.3,506.4 877.8,507.8 878.1,509.4" fill="none" stroke="#ff0000" stroke-width="1.0" stroke-linejoin="round"/>
<polyline points="885.5,509.4 886.1,508.4 886.5,508.8 886.9,509.4" fill="none" stroke="#ff0000" stroke-width="1.0" stroke-linejoin="round"/>
<polyline points="900.5,509.4 901.1,507.4 901.5,508.3 901.9,509.4" fill="none" stroke="#ff0000" stroke-width="1.0" stroke-linejoin="round"/>
<polyline points="905.5,509.4 906.1,507.4 906.5,508.3 906.9,509.4" fill="none" stroke="#ff0000" stroke-width="1.0" stroke-linejoin="round"/>
<polyline points="920.5,509.4 921.1,506.4 921.5,507.8 921.9,509.4" fill="none" stroke="#ff0000" stroke-width="1.0" stroke-linejoin="round"/>
<polyline points="929.3,509.4 929.8,506.4 930.3,507.8 930.6,509.4" fill="none" stroke="#ff0000" stroke-width="1.0" stroke-linejoin="round"/>
<polyline points="945.5,509.4 946.1,504.4 946.5,506.6 946.9,509.4" fill="none" stroke="#ff0000" stroke-width="1.0" stroke-linejoin="round"/>
<polyline points="947.5,509.4 948.1,503.4 948.5,506.1 948.9,509.4" fill="none" stroke="#ff0000" stroke-width="1.0" stroke-linejoin="round"/>
<polyline points="956.8,509.4 957.3,505.4 957.8,507.2 958.1,509.4" fill="none" stroke="#ff0000" stroke-width="1.0" stroke-linejoin="round"/>
<polyline points="958.5,509.4 959.1,504.4 959.5,506.6 959.9,509.4" fill="none" stroke="#ff0000" stroke-width="1.0" stroke-linejoin="round"/>
<polyline points="967.3,509.4 967.8,503.4 968.3,506.1 968.6,509.4" fill="none" stroke="#ff0000" stroke-width="1.0" stroke-linejoin="round"/>
<polyline points="981.3,509.4 981.8,505.4 982.3,507.2 982.6,509.4" fill="none" stroke="#ff0000" stroke-width="1.0" stroke-linejoin="round"/>
<polyline points="989.8,509.4 990.3,506.4 990.8,507.8 991.1,509.4" fill="none" stroke="#ff0000" stroke-width="1.0" stroke-linejoin="round"/>
<polyline points="996.3,509.4 996.8,499.9 997.3,504.2 997.6,509.4" fill="none" stroke="#ff0000" stroke-width="1.0" stroke-linejoin="round"/>
<polyline points="997.8,509.4 998.3,503.4 998.8,506.1 999.1,509.4" fill="none" stroke="#ff0000" stroke-width="1.0" stroke-linejoin="round"/>
<polyline points="1008.5,509.4 1009.1,502.4 1009.5,505.5 1009.9,509.4" fill="none" stroke="#ff0000" stroke-width="1.0" stroke-linejoin="round"/>
<polyline points="1012.3,509.4 1012.8,505.4 1013.3,507.2 1013.6,509.4" fill="none" stroke="#ff0000" stroke-width="1.0" stroke-linejoin="round"/>
<polyline points="1014.8,509.4 1015.3,507.4 1015.8,508.3 1016.1,509.4" fill="none" stroke="#ff0000" stroke-width="1.0" stroke-linejoin="round"/>
<polyline points="1029.3,509.4 1029.8,503.4 1030.3,506.1 1030.6,509.4" fill="none" stroke="#ff0000" stroke-width="1.0" stroke-linejoin="round"/>
<polyline points="1031.8,509.4 1032.3,507.4 1032.8,508.3 1033.1,509.4" fill="none" stroke="#ff0000" stroke-width="1.0" stroke-linejoin="round"/>
<polyline points="1034.3,509.4 1034.8,508.4 1035.3,508.8 1035.6,509.4" fill="none" stroke="#ff0000" stroke-width="1.0" stroke-linejoin="round"/>
<polyline points="1064.3,509.4 1064.8,504.4 1065.3,506.6 1065.6,509.4" fill="none" stroke="#ff0000" stroke-width="1.0" stroke-linejoin="round"/>
<polyline points="1065.5,509.4 1066.1,504.4 1066.5,506.6 1066.9,509.4" fill="none" stroke="#ff0000" stroke-width="1.0" stroke-linejoin="round"/>
<polyline points="131.5,509.4 131.5,466" fill="none" stroke="#00f000" stroke-width="1.15" stroke-linejoin="round"/>
<polyline points="217.3,509.4 217.3,485 220.6,509.4" fill="none" stroke="#00f000" stroke-width="1.15" stroke-linejoin="round"/>
</g>
<line x1="1091" y1="425.8" x2="1103.2" y2="430.6" stroke="#00f" stroke-width="1.3"/>
<text x="1107.8" y="432.6" font-size="12"><tspan textLength="38.7" lengthAdjust="spacingAndGlyphs">CHEMS</tspan><tspan textLength="6.6" lengthAdjust="spacingAndGlyphs">-</tspan><tspan>P</tspan></text>
<line x1="1091" y1="440.8" x2="1103.2" y2="445.6" stroke="#f00" stroke-width="1.3"/>
<text x="1107.8" y="447.6" font-size="12"><tspan textLength="37.6" lengthAdjust="spacingAndGlyphs">LEMMS</tspan><tspan textLength="6.6" lengthAdjust="spacingAndGlyphs">-</tspan><tspan>P</tspan></text>
<line x1="1091" y1="455.8" x2="1103.2" y2="460.6" stroke="#0f0" stroke-width="1.3"/>
<text x="1107.8" y="462.6" font-size="12"><tspan textLength="38.7" lengthAdjust="spacingAndGlyphs">CHEMS</tspan><tspan textLength="6.6" lengthAdjust="spacingAndGlyphs">-</tspan><tspan>O</tspan></text>
<rect x="95" y="513" width="986" height="179" fill="#000"/>
<linearGradient id="sp" gradientUnits="userSpaceOnUse" x1="0" y1="513" x2="0" y2="692">
<stop offset="0.0000" stop-color="#0808a0"/>
<stop offset="0.1508" stop-color="#1212c2"/>
<stop offset="0.2235" stop-color="#171adc"/>
<stop offset="0.3073" stop-color="#1229f3"/>
<stop offset="0.3911" stop-color="#026af2"/>
<stop offset="0.5140" stop-color="#0092c0"/>
<stop offset="0.5866" stop-color="#02a5a1"/>
<stop offset="0.6536" stop-color="#09b28d"/>
<stop offset="0.7486" stop-color="#1cc569"/>
<stop offset="0.8212" stop-color="#6bdd42"/>
<stop offset="0.8436" stop-color="#90ea2b"/>
<stop offset="0.9106" stop-color="#cde600"/>
<stop offset="0.9553" stop-color="#dbce00"/>
<stop offset="0.9888" stop-color="#e8a800"/>
</linearGradient>
<linearGradient id="sp2" gradientUnits="userSpaceOnUse" x1="0" y1="513" x2="0" y2="692">
<stop offset="0.0000" stop-color="#0808a0"/>
<stop offset="0.1508" stop-color="#1212c2"/>
<stop offset="0.2235" stop-color="#171adc"/>
<stop offset="0.3911" stop-color="#026af2"/>
<stop offset="0.5140" stop-color="#0092c0"/>
<stop offset="0.6536" stop-color="#0bb683"/>
<stop offset="0.7486" stop-color="#38d058"/>
<stop offset="0.8212" stop-color="#98ed26"/>
<stop offset="0.8436" stop-color="#b0ee13"/>
<stop offset="0.8771" stop-color="#caea00"/>
<stop offset="0.9106" stop-color="#d5dc00"/>
<stop offset="0.9441" stop-color="#e3b600"/>
<stop offset="0.9777" stop-color="#ed9a00"/>
<stop offset="0.9888" stop-color="#f09000"/>
</linearGradient>
<path d="M311 517h1m5 0h1m188 0h1m96 0h1m60 0h1m14 0h1m175 0h1m4 0h1m56 0h1m45 0h1m16 0h1m16 0h1m35 0h3" stroke="url(#sp)" stroke-width="6" fill="none"/>
<path d="M273 523h3m8 0h1m29 0h1m79 0h1m32 0h1m55 0h1m22 0h1m73 0h2m2 0h1m1 0h1m47 0h1m65 0h1m2 0h2m10 0h2m46 0h1m22 0h1m31 0h2m4 0h1m58 0h2m49 0h1m9 0h1m70 0h1m39 0h2" stroke="url(#sp)" stroke-width="6" fill="none"/>
<path d="M127 528h1m9 0h1m2 0h1m5 0h1m5 0h1m4 0h2m5 0h1m7 0h1m3 0h1m2 0h1m8 0h1m3 0h1m22 0h1m26 0h2m13 0h1m2 0h2m43 0h3m6 0h1m1 0h1m6 0h1m12 0h1m10 0h1m31 0h1m12 0h1m8 0h1m1 0h2m4 0h2m7 0h1m51 0h2m66 0h1m32 0h2m19 0h2m17 0h1m13 0h1m4 0h2m12 0h1m4 0h2m6 0h1m9 0h2m6 0h2m21 0h1m4 0h1m40 0h2m1 0h1m1 0h2m9 0h1m10 0h1m13 0h1m17 0h1m7 0h2m12 0h1m8 0h1m1 0h2m10 0h1m4 0h1m4 0h1m23 0h1m2 0h1m18 0h1m5 0h1m16 0h1m5 0h1m29 0h1m12 0h1m1 0h2m6 0h2m7 0h1m8 0h1m21 0h3m2 0h1m4 0h1m1 0h1m8 0h1m9 0h1m20 0h1" stroke="url(#sp)" stroke-width="4" fill="none"/>
<path d="M96 535h2m5 0h1m12 0h2m3 0h2m3 0h2m1 0h2m15 0h2m8 0h2m2 0h1m14 0h1m1 0h1m2 0h1m8 0h1m10 0h4m7 0h1m3 0h1m2 0h1m5 0h1m1 0h2m3 0h1m1 0h1m5 0h1m2 0h2m11 0h1m13 0h1m4 0h2m5 0h1m4 0h2m15 0h1m19 0h3m7 0h2m4 0h2m5 0h1m1 0h1m10 0h1m1 0h2m2 0h1m13 0h1m3 0h2m3 0h1m8 0h1m3 0h2m2 0h2m1 0h4m6 0h1m2 0h1m8 0h1m4 0h1m8 0h1m9 0h2m5 0h2m3 0h2m14 0h1m1 0h1m17 0h1m6 0h2m4 0h1m14 0h1m16 0h1m6 0h1m3 0h1m4 0h1m11 0h2m4 0h1m3 0h2m2 0h1m2 0h1m8 0h1m1 0h1m1 0h3m6 0h1m2 0h1m3 0h3m4 0h1m5 0h1m3 0h1m1 0h1m3 0h1m2 0h1m1 0h1m2 0h3m7 0h1m1 0h2m4 0h1m5 0h2m3 0h1m2 0h1m16 0h1m6 0h1m1 0h2m6 0h1m1 0h2m2 0h2m2 0h1m3 0h2m5 0h4m4 0h1m2 0h1m6 0h3m5 0h1m1 0h1m2 0h1m2 0h1m8 0h1m1 0h1m1 0h1m2 0h1m9 0h2m2 0h1m7 0h1m1 0h2m2 0h1m6 0h1m4 0h1m3 0h1m16 0h1m11 0h1m2 0h1m1 0h1m1 0h2m4 0h1m6 0h5m6 0h1m3 0h1m4 0h1m3 0h2m3 0h1m2 0h1m20 0h1m2 0h1m2 0h1m13 0h1m1 0h1m4 0h1m2 0h1m5 0h2m5 0h1m9 0h1m2 0h1m8 0h1m6 0h1m3 0h1m2 0h1m5 0h1m3 0h1m2 0h1m3 0h1m1 0h4m4 0h1m11 0h2m9 0h1m8 0h1m2 0h2m2 0h1" stroke="url(#sp)" stroke-width="10" fill="none"/>
<path d="M97 546.5h1m4 0h1m5 0h1m3 0h1m4 0h1m2 0h1m3 0h1m1 0h2m1 0h4m1 0h3m4 0h4m3 0h3m4 0h2m7 0h2m10 0h3m1 0h1m12 0h1m7 0h1m11 0h1m4 0h2m1 0h1m3 0h1m4 0h1m2 0h3m2 0h1m8 0h1m2 0h1m2 0h1m1 0h1m2 0h1m2 0h1m4 0h2m12 0h1m3 0h1m5 0h1m1 0h1m3 0h2m4 0h4m2 0h1m2 0h1m8 0h1m1 0h1m2 0h1m8 0h1m4 0h1m3 0h1m10 0h1m7 0h1m2 0h2m2 0h1m3 0h1m2 0h1m6 0h1m1 0h2m1 0h1m3 0h2m16 0h1m1 0h1m11 0h1m1 0h1m3 0h1m5 0h1m4 0h1m1 0h1m5 0h2m7 0h1m1 0h1m3 0h2m1 0h2m1 0h1m1 0h1m3 0h1m3 0h1m2 0h1m3 0h2m2 0h1m8 0h2m2 0h1m1 0h2m1 0h1m2 0h1m4 0h1m3 0h1m5 0h1m3 0h1m1 0h3m7 0h1m2 0h1m2 0h1m1 0h1m6 0h2m1 0h2m2 0h2m4 0h1m3 0h1m5 0h5m3 0h2m1 0h1m1 0h1m5 0h2m2 0h2m1 0h1m2 0h1m2 0h1m4 0h1m2 0h2m8 0h1m3 0h1m3 0h1m1 0h1m1 0h2m1 0h2m4 0h1m9 0h1m1 0h4m2 0h1m4 0h3m1 0h1m4 0h1m13 0h1m1 0h2m2 0h2m1 0h1m2 0h2m4 0h1m7 0h1m1 0h1m5 0h2m5 0h3m1 0h2m2 0h1m1 0h2m3 0h1m1 0h1m5 0h3m1 0h2m3 0h6m3 0h1m3 0h4m1 0h2m1 0h2m1 0h1m1 0h1m11 0h1m4 0h1m3 0h1m3 0h1m1 0h1m4 0h2m2 0h2m6 0h1m3 0h1m4 0h2m5 0h1m2 0h1m3 0h1m3 0h1m2 0h1m7 0h1m2 0h1m3 0h3m2 0h1m5 0h3m6 0h1m3 0h1m1 0h1m1 0h2m4 0h1m1 0h1m4 0h1m2 0h2m3 0h5m1 0h1m2 0h2m1 0h2m6 0h1m7 0h2m11 0h1m3 0h2m2 0h1m2 0h2m5 0h2m12 0h1m3 0h4m3 0h1m5 0h3m5 0h1m5 0h1m7 0h1m6 0h1m2 0h3m2 0h1m1 0h1m1 0h2m1 0h1m3 0h4m1 0h1" stroke="url(#sp)" stroke-width="13" fill="none"/>
<path d="M96 560.75h1m3 0h1m4 0h1m4 0h1m3 0h4m2 0h2m2 0h4m1 0h1m6 0h1m4 0h1m3 0h2m4 0h2m2 0h1m1 0h2m1 0h1m4 0h1m3 0h1m5 0h1m3 0h1m3 0h1m3 0h1m5 0h1m5 0h1m3 0h1m1 0h1m1 0h5m1 0h1m1 0h1m5 0h2m1 0h2m4 0h1m2 0h1m3 0h2m6 0h1m1 0h1m2 0h1m2 0h1m1 0h3m3 0h1m4 0h1m2 0h1m1 0h1m6 0h2m4 0h2m1 0h1m6 0h1m1 0h3m1 0h3m1 0h4m3 0h1m4 0h2m1 0h5m1 0h1m4 0h1m2 0h1m2 0h1m1 0h3m3 0h1m1 0h3m8 0h1m3 0h1m5 0h2m1 0h1m2 0h3m2 0h1m2 0h1m1 0h1m1 0h1m1 0h2m8 0h1m4 0h1m1 0h1m1 0h1m1 0h2m6 0h1m1 0h1m2 0h1m2 0h2m2 0h1m2 0h3m1 0h2m6 0h1m4 0h3m1 0h1m1 0h2m2 0h3m7 0h1m1 0h1m1 0h1m2 0h2m3 0h1m2 0h1m2 0h1m4 0h1m11 0h2m4 0h4m1 0h2m7 0h1m1 0h2m7 0h1m1 0h2m4 0h4m3 0h3m11 0h1m1 0h1m2 0h5m2 0h2m2 0h1m1 0h1m1 0h5m1 0h1m2 0h3m5 0h2m1 0h2m6 0h4m5 0h2m1 0h1m1 0h1m1 0h1m2 0h1m3 0h2m4 0h1m3 0h3m1 0h8m1 0h2m5 0h4m1 0h1m3 0h1m2 0h2m1 0h1m2 0h1m1 0h1m2 0h1m4 0h1m1 0h2m2 0h2m10 0h3m1 0h1m1 0h1m1 0h3m3 0h2m2 0h3m2 0h3m1 0h1m1 0h2m1 0h3m9 0h1m4 0h2m2 0h1m2 0h1m3 0h1m2 0h8m2 0h1m2 0h6m1 0h1m3 0h1m1 0h1m1 0h1m4 0h2m1 0h2m1 0h7m3 0h1m2 0h2m2 0h2m8 0h1m1 0h4m2 0h1m2 0h4m1 0h1m5 0h1m1 0h2m14 0h1m4 0h1m7 0h2m1 0h4m4 0h1m1 0h2m1 0h1m1 0h1m10 0h2m8 0h1m2 0h2m2 0h2m7 0h1m8 0h3m1 0h1m11 0h3m2 0h1m6 0h2m6 0h3m12 0h3m2 0h1m6 0h1m6 0h3m1 0h2m10 0h1m4 0h1m1 0h1m1 0h1m1 0h3m2 0h2m5 0h2m2 0h1m7 0h1" stroke="url(#sp)" stroke-width="15.5" fill="none"/>
<path d="M97 576h1m1 0h2m1 0h2m1 0h3m4 0h2m2 0h2m1 0h2m1 0h1m1 0h2m1 0h1m4 0h2m1 0h4m5 0h3m1 0h1m2 0h3m1 0h3m6 0h1m5 0h4m2 0h1m1 0h1m1 0h1m2 0h1m3 0h1m5 0h1m2 0h1m1 0h1m4 0h1m3 0h1m1 0h1m1 0h5m1 0h2m5 0h2m3 0h2m2 0h3m2 0h2m2 0h1m4 0h1m2 0h1m4 0h1m6 0h1m3 0h1m1 0h2m1 0h2m1 0h1m3 0h2m1 0h1m2 0h2m2 0h2m2 0h3m1 0h1m3 0h1m1 0h4m1 0h1m4 0h2m2 0h1m4 0h1m3 0h2m3 0h5m1 0h1m2 0h9m1 0h2m2 0h7m1 0h2m4 0h1m1 0h2m2 0h2m8 0h1m1 0h1m1 0h2m5 0h1m2 0h1m1 0h1m1 0h1m1 0h2m1 0h1m1 0h2m1 0h2m5 0h1m2 0h1m2 0h2m2 0h1m1 0h1m1 0h1m2 0h1m3 0h1m1 0h1m1 0h1m2 0h3m1 0h5m3 0h1m7 0h5m4 0h2m5 0h3m2 0h3m1 0h1m1 0h2m5 0h1m2 0h3m2 0h3m3 0h1m8 0h2m2 0h1m1 0h1m1 0h1m1 0h4m1 0h1m2 0h1m1 0h1m9 0h1m5 0h4m2 0h1m3 0h4m3 0h1m2 0h6m2 0h1m2 0h2m1 0h2m5 0h2m1 0h1m1 0h3m2 0h1m3 0h1m2 0h2m1 0h1m1 0h2m1 0h1m2 0h2m3 0h2m1 0h1m2 0h1m3 0h2m1 0h1m2 0h1m2 0h1m4 0h1m1 0h1m4 0h3m1 0h2m6 0h2m4 0h3m1 0h1m7 0h1m3 0h3m1 0h4m3 0h3m2 0h1m1 0h1m9 0h1m1 0h1m4 0h2m1 0h2m1 0h1m4 0h2m2 0h1m6 0h1m1 0h1m5 0h2m1 0h1m3 0h4m3 0h2m1 0h1m2 0h8m2 0h1m3 0h1m1 0h1m1 0h1m1 0h1m1 0h1m3 0h1m2 0h1m1 0h4m1 0h1m4 0h1m2 0h1m2 0h6m1 0h1m3 0h3m1 0h1m2 0h1m1 0h2m1 0h1m6 0h1m1 0h1m2 0h1m1 0h3m1 0h1m4 0h1m2 0h1m3 0h1m4 0h1m2 0h2m4 0h1m9 0h5m3 0h1m5 0h3m3 0h3m5 0h6m1 0h1m1 0h2m1 0h1m8 0h1m3 0h1m6 0h3m1 0h2m1 0h1m1 0h1m1 0h1m1 0h2m2 0h1m6 0h4m10 0h1m1 0h2m1 0h5m3 0h2m1 0h1m5 0h1m2 0h3m2 0h2m2 0h1m4 0h1m2 0h1m6 0h2m3 0h2m1 0h1m1 0h4m1 0h1m7 0h1" stroke="url(#sp)" stroke-width="15" fill="none"/>
<path d="M99 594.25h1m5 0h4m4 0h4m3 0h1m1 0h1m1 0h4m3 0h1m4 0h1m5 0h1m2 0h2m1 0h1m6 0h2m1 0h2m8 0h1m4 0h4m3 0h2m1 0h1m8 0h1m1 0h1m1 0h1m2 0h1m3 0h1m1 0h1m3 0h1m5 0h1m2 0h1m3 0h1m2 0h1m2 0h1m1 0h1m2 0h3m14 0h2m4 0h2m2 0h1m8 0h2m4 0h2m3 0h1m3 0h1m5 0h1m3 0h1m7 0h4m1 0h2m1 0h1m2 0h1m7 0h1m8 0h1m1 0h2m1 0h1m2 0h2m3 0h1m2 0h1m2 0h1m5 0h1m4 0h2m1 0h1m1 0h2m1 0h5m1 0h2m2 0h2m5 0h1m1 0h1m4 0h1m13 0h1m1 0h1m1 0h2m6 0h1m1 0h1m1 0h1m1 0h1m3 0h2m1 0h1m3 0h3m1 0h1m4 0h1m3 0h1m1 0h2m2 0h2m1 0h1m2 0h1m1 0h1m2 0h1m1 0h1m2 0h1m5 0h2m5 0h1m14 0h3m5 0h1m3 0h1m1 0h4m2 0h2m4 0h1m2 0h2m3 0h1m1 0h1m1 0h1m1 0h1m6 0h1m4 0h1m8 0h1m1 0h1m3 0h3m1 0h1m2 0h1m6 0h1m1 0h4m1 0h2m2 0h1m1 0h2m6 0h2m1 0h5m5 0h1m10 0h2m4 0h1m2 0h1m1 0h1m2 0h3m2 0h2m1 0h1m2 0h2m3 0h1m3 0h1m3 0h1m1 0h3m2 0h3m4 0h2m1 0h2m5 0h2m4 0h1m1 0h1m1 0h1m2 0h1m3 0h3m3 0h1m4 0h1m1 0h1m2 0h2m5 0h1m1 0h1m1 0h1m2 0h1m1 0h1m2 0h2m3 0h2m1 0h1m2 0h2m4 0h1m2 0h2m3 0h4m3 0h2m1 0h3m9 0h2m2 0h2m2 0h2m3 0h2m3 0h1m1 0h1m2 0h2m2 0h3m1 0h1m5 0h1m4 0h1m2 0h1m2 0h5m2 0h5m3 0h1m1 0h1m1 0h1m5 0h1m9 0h1m2 0h1m3 0h1m1 0h1m1 0h2m2 0h1m2 0h1m1 0h1m2 0h3m2 0h2m2 0h1m3 0h3m1 0h4m8 0h2m3 0h1m5 0h1m1 0h1m4 0h3m2 0h1m1 0h1m5 0h1m4 0h1m1 0h1m4 0h2m4 0h1m2 0h2m6 0h2m3 0h2m3 0h2m4 0h2m5 0h1m1 0h4m2 0h4m4 0h1m5 0h1m5 0h1m3 0h1m2 0h1m1 0h1m13 0h5m5 0h4m1 0h2m2 0h1" stroke="url(#sp)" stroke-width="21.5" fill="none"/>
<path d="M97 611.5h1m4 0h1m2 0h1m2 0h1m1 0h1m2 0h5m1 0h3m2 0h1m1 0h1m2 0h2m10 0h2m2 0h2m1 0h1m7 0h3m2 0h1m3 0h1m2 0h2m2 0h1m6 0h2m17 0h2m3 0h1m1 0h1m3 0h2m1 0h1m5 0h1m6 0h1m2 0h2m3 0h1m1 0h1m1 0h1m4 0h4m2 0h1m1 0h1m1 0h1m13 0h1m15 0h1m3 0h1m7 0h1m6 0h1m2 0h1m1 0h1m5 0h1m3 0h1m2 0h1m1 0h1m7 0h1m6 0h1m9 0h1m1 0h1m4 0h2m1 0h1m2 0h1m1 0h2m1 0h1m3 0h1m1 0h1m2 0h3m2 0h1m4 0h1m4 0h1m3 0h1m9 0h2m2 0h3m3 0h1m5 0h1m1 0h2m1 0h1m6 0h2m9 0h2m9 0h1m1 0h1m5 0h1m6 0h2m1 0h3m7 0h1m3 0h1m11 0h1m1 0h3m2 0h2m20 0h1m1 0h1m9 0h2m8 0h1m1 0h1m1 0h1m12 0h4m3 0h1m9 0h1m1 0h1m2 0h1m2 0h2m3 0h1m5 0h2m1 0h1m2 0h3m1 0h1m10 0h2m4 0h1m1 0h2m4 0h2m1 0h2m1 0h1m2 0h1m1 0h1m2 0h1m2 0h1m1 0h1m6 0h1m2 0h2m5 0h1m4 0h2m1 0h1m16 0h1m3 0h1m2 0h1m2 0h1m2 0h3m2 0h2m2 0h1m3 0h1m1 0h2m1 0h2m4 0h1m7 0h1m2 0h1m2 0h1m1 0h2m3 0h2m3 0h5m3 0h1m4 0h2m2 0h1m3 0h1m7 0h3m6 0h1m1 0h1m1 0h1m1 0h1m10 0h1m4 0h1m9 0h5m3 0h2m3 0h3m5 0h2m1 0h1m2 0h2m3 0h2m2 0h1m1 0h1m3 0h2m1 0h1m4 0h1m3 0h2m13 0h3m1 0h1m1 0h2m4 0h2m2 0h1m2 0h1m2 0h1m10 0h1m1 0h1m19 0h1m2 0h1m2 0h1m5 0h1m3 0h2m1 0h2m5 0h1m4 0h2m7 0h1m5 0h1m9 0h1m2 0h2m5 0h1m7 0h1m3 0h1m1 0h1m2 0h1m7 0h1m2 0h1m4 0h4m4 0h1m1 0h5" stroke="url(#sp)" stroke-width="13" fill="none"/>
<path d="M96 624h1m2 0h1m14 0h1m1 0h2m1 0h1m1 0h1m5 0h1m1 0h2m1 0h1m10 0h1m2 0h1m6 0h2m11 0h1m3 0h2m3 0h1m1 0h1m8 0h3m4 0h4m10 0h1m1 0h1m9 0h1m4 0h1m23 0h1m12 0h2m2 0h2m25 0h1m7 0h1m2 0h1m12 0h1m12 0h1m1 0h2m3 0h5m6 0h1m2 0h1m18 0h1m15 0h1m16 0h1m1 0h1m16 0h1m8 0h1m4 0h2m11 0h4m2 0h2m4 0h1m5 0h1m3 0h1m3 0h1m1 0h1m6 0h1m1 0h1m5 0h1m2 0h1m3 0h1m2 0h1m8 0h1m4 0h3m3 0h1m1 0h1m7 0h2m1 0h1m6 0h2m3 0h1m11 0h2m6 0h1m2 0h1m19 0h1m3 0h2m6 0h1m1 0h1m4 0h2m4 0h1m3 0h1m1 0h1m2 0h1m15 0h3m2 0h2m6 0h2m1 0h1m2 0h1m4 0h1m1 0h1m5 0h1m5 0h1m13 0h1m6 0h3m5 0h1m2 0h1m2 0h1m3 0h1m3 0h1m3 0h1m2 0h3m2 0h2m4 0h1m2 0h1m5 0h3m10 0h1m2 0h1m2 0h1m5 0h2m4 0h1m1 0h2m1 0h1m5 0h2m8 0h1m1 0h1m1 0h1m10 0h1m3 0h1m8 0h1m3 0h1m1 0h1m8 0h1m6 0h2m7 0h1m1 0h2m6 0h1m1 0h1m8 0h1m4 0h1m6 0h2m12 0h3m4 0h1m1 0h1m7 0h2m10 0h1m4 0h1m1 0h1m2 0h1m16 0h1m3 0h1m1 0h1m3 0h1m6 0h1m5 0h1m19 0h1m4 0h1m4 0h2m3 0h1m10 0h2m3 0h1m12 0h2m2 0h1m2 0h1m8 0h1m13 0h1" stroke="url(#sp)" stroke-width="12" fill="none"/>
<path d="M229 624h1m3 0h3m32 0h3m3 0h3m1 0h1m1 0h1" stroke="url(#sp2)" stroke-width="12" fill="none"/>
<path d="M102 638.5h1m18 0h1m5 0h1m1 0h2m2 0h1m49 0h1m15 0h1m7 0h1m4 0h1m1 0h1m3 0h1m5 0h2m65 0h2m3 0h1m3 0h1m5 0h1m5 0h1m3 0h1m2 0h1m1 0h1m3 0h2m6 0h1m4 0h1m7 0h2m9 0h2m6 0h1m1 0h2m3 0h1m1 0h1m3 0h1m4 0h1m13 0h2m2 0h1m4 0h2m7 0h1m1 0h3m1 0h1m6 0h1m1 0h2m3 0h1m2 0h2m2 0h2m4 0h4m2 0h1m3 0h1m1 0h4m3 0h1m2 0h2m4 0h1m20 0h1m4 0h1m6 0h3m2 0h1m26 0h3m5 0h1m9 0h1m6 0h1m4 0h2m6 0h2m3 0h1m5 0h1m14 0h1m4 0h1m3 0h1m5 0h1m4 0h2m8 0h1m10 0h1m2 0h1m2 0h2m8 0h1m12 0h1m1 0h1m4 0h1m11 0h1m9 0h2m4 0h3m1 0h2m12 0h1m2 0h2m4 0h1m4 0h3m2 0h1m3 0h1m2 0h1m4 0h1m2 0h3m1 0h1m3 0h2m1 0h1m2 0h1m7 0h1m1 0h1m6 0h1m5 0h1m5 0h1m3 0h1m3 0h3m3 0h1m5 0h3m20 0h4m15 0h1m11 0h1m3 0h3m6 0h2m4 0h1m7 0h1m3 0h1m5 0h1m4 0h1m9 0h1m1 0h3m8 0h1m3 0h1m2 0h1m2 0h1m1 0h1m3 0h1m2 0h1m4 0h1m3 0h2m4 0h1m1 0h1m7 0h1m11 0h1m3 0h1m2 0h4m3 0h1m1 0h1m2 0h1m5 0h1m8 0h1m12 0h1m1 0h1m2 0h1m3 0h1m12 0h1" stroke="url(#sp)" stroke-width="17" fill="none"/>
<path d="M227 638.5h10m1 0h2m3 0h3m5 0h3m1 0h1m2 0h1m5 0h7m1 0h5m1 0h8" stroke="url(#sp2)" stroke-width="17" fill="none"/>
<path d="M96 655.5h1m5 0h2m14 0h1m46 0h1m20 0h1m6 0h1m11 0h2m4 0h1m127 0h2m3 0h1m2 0h1m6 0h1m4 0h1m5 0h1m3 0h1m7 0h1m1 0h1m3 0h1m1 0h1m6 0h1m4 0h4m2 0h1m1 0h1m4 0h1m1 0h1m1 0h1m3 0h1m1 0h1m9 0h2m3 0h1m14 0h1m3 0h1m3 0h2m8 0h2m2 0h1m11 0h1m3 0h1m4 0h1m6 0h3m17 0h4m7 0h1m2 0h1m135 0h1m13 0h2m14 0h1m10 0h1m9 0h1m2 0h1m3 0h2m2 0h1m2 0h1m4 0h1m1 0h1m2 0h1m1 0h1m9 0h1m1 0h1m1 0h1m1 0h1m1 0h2m3 0h1m2 0h2m12 0h1m1 0h2m2 0h1m7 0h1m2 0h1m4 0h1m1 0h2m5 0h1m7 0h1m5 0h1m4 0h1m1 0h1m1 0h1m3 0h1m21 0h1m2 0h2m2 0h1m3 0h1m19 0h1m5 0h1m1 0h1m1 0h1m6 0h2m5 0h1m8 0h1m4 0h1m1 0h2m2 0h1m5 0h1m2 0h1m6 0h1m8 0h1m1 0h2m2 0h2m2 0h1m10 0h1m5 0h1m2 0h1m11 0h1m1 0h2m14 0h1m3 0h1m4 0h1m1 0h3m2 0h1m8 0h4m3 0h2m4 0h2m2 0h1m6 0h1m1 0h1m1 0h1" stroke="url(#sp)" stroke-width="17" fill="none"/>
<path d="M222 655.5h9m1 0h6m1 0h4m1 0h2m2 0h2m2 0h2m2 0h1m1 0h1m1 0h4m1 0h8m1 0h7m1 0h7m1 0h1m5 0h1m2 0h3m1 0h4m2 0h3m2 0h2m8 0h1m2 0h4m2 0h1m211 0h1m4 0h3m3 0h1m4 0h1m3 0h1m5 0h1m2 0h1m7 0h2m2 0h1m2 0h1m5 0h2m7 0h8m1 0h1m2 0h3m1 0h2m5 0h1m4 0h1m2 0h5m1 0h2m1 0h3m3 0h1m2 0h2m2 0h1m9 0h1" stroke="url(#sp2)" stroke-width="17" fill="none"/>
<path d="M135 670h3m22 0h1m1 0h3m1 0h4m5 0h1m10 0h3m1 0h2m2 0h3m8 0h2m5 0h3m131 0h2m13 0h2m2 0h5m4 0h1m1 0h1m6 0h1m4 0h1m8 0h1m8 0h1m1 0h2m5 0h1m8 0h1m6 0h1m3 0h1m2 0h1m3 0h2m4 0h1m3 0h1m2 0h1m2 0h4m1 0h1m4 0h1m1 0h1m4 0h1m15 0h1m3 0h1m4 0h1m2 0h2m6 0h1m2 0h2m2 0h3m2 0h2m1 0h1m4 0h1m9 0h1m1 0h2m125 0h1m3 0h2m1 0h1m1 0h2m4 0h1m6 0h2m4 0h3m4 0h3m1 0h1m1 0h1m2 0h1m1 0h3m1 0h1m7 0h1m3 0h2m2 0h3m1 0h6m4 0h1m7 0h3m1 0h1m3 0h1m1 0h1m3 0h2m1 0h1m1 0h2m3 0h1m2 0h2m1 0h4m1 0h1m3 0h2m4 0h3m5 0h1m3 0h1m1 0h2m6 0h2m4 0h1m1 0h2m2 0h1m3 0h1m3 0h1m2 0h4m11 0h10m1 0h1m4 0h1m11 0h3m4 0h1m1 0h1m2 0h3m2 0h1m1 0h2m3 0h3m10 0h1m2 0h1m2 0h2m2 0h1m6 0h1m9 0h2m3 0h3m2 0h1m5 0h3m2 0h3m5 0h1m1 0h4m3 0h3m8 0h1m3 0h3m1 0h1m1 0h1m10 0h1m1 0h1m2 0h2m1 0h1m13 0h1m4 0h1m4 0h1m2 0h1m3 0h1m4 0h1m2 0h2m3 0h1" stroke="url(#sp)" stroke-width="12" fill="none"/>
<path d="M216 670h11m1 0h3m1 0h49m1 0h16m1 0h10m1 0h2m1 0h2m1 0h1m1 0h2m1 0h2m3 0h1m1 0h4m1 0h2m3 0h5m202 0h1m2 0h3m2 0h4m1 0h1m1 0h2m1 0h1m1 0h1m1 0h3m4 0h6m2 0h1m1 0h41m1 0h6m1 0h3m1 0h29m1 0h1" stroke="url(#sp2)" stroke-width="12" fill="none"/>
<path d="M96 683h3m2 0h2m3 0h3m2 0h2m2 0h1m10 0h3m1 0h1m3 0h4m1 0h3m6 0h2m9 0h4m1 0h4m1 0h1m1 0h1m5 0h1m4 0h1m2 0h6m1 0h3m1 0h4m2 0h3m3 0h5m133 0h1m1 0h2m3 0h3m3 0h3m1 0h1m3 0h13m3 0h1m1 0h2m1 0h1m3 0h6m1 0h1m2 0h5m1 0h1m1 0h1m1 0h1m4 0h5m3 0h2m3 0h2m10 0h2m4 0h5m1 0h1m3 0h4m1 0h2m2 0h4m1 0h1m3 0h1m1 0h1m1 0h5m1 0h2m3 0h1m1 0h2m1 0h1m1 0h1m1 0h1m2 0h1m5 0h2m1 0h4m5 0h7m2 0h4m1 0h1m1 0h2m1 0h1m127 0h4m2 0h1m1 0h4m1 0h1m2 0h1m1 0h1m1 0h1m5 0h1m1 0h1m1 0h5m1 0h1m1 0h2m1 0h1m1 0h2m1 0h6m2 0h1m1 0h3m1 0h1m3 0h2m5 0h1m2 0h6m1 0h2m3 0h3m2 0h8m1 0h6m1 0h1m2 0h1m5 0h4m1 0h2m6 0h1m3 0h1m1 0h4m2 0h1m1 0h6m1 0h2m4 0h3m1 0h1m2 0h2m2 0h1m5 0h5m3 0h3m1 0h2m6 0h1m1 0h1m7 0h1m5 0h1m1 0h1m2 0h1m3 0h1m1 0h2m1 0h3m3 0h2m4 0h1m1 0h2m1 0h4m2 0h1m3 0h1m1 0h3m2 0h2m2 0h3m1 0h2m1 0h4m1 0h5m2 0h1m5 0h1m1 0h1m5 0h6m5 0h2m3 0h4m1 0h4m1 0h1m4 0h1m4 0h1m2 0h1m1 0h2m2 0h2m2 0h3m5 0h1m2 0h2m1 0h1m5 0h1m1 0h1m1 0h2m1 0h1m1 0h2m5 0h2m3 0h6m2 0h3m1 0h3m1 0h2m1 0h1m6 0h1" stroke="url(#sp)" stroke-width="14" fill="none"/>
<path d="M215 683h7m1 0h17m1 0h24m1 0h27m1 0h40m1 0h11m199 0h4m1 0h4m1 0h1m1 0h9m1 0h5m2 0h2m2 0h30m1 0h29m1 0h14m1 0h14" stroke="url(#sp2)" stroke-width="14" fill="none"/>
<linearGradient id="glow" x1="0" y1="0" x2="0" y2="1"><stop offset="0" stop-color="#ff7800" stop-opacity="0"/><stop offset="1" stop-color="#ff7000" stop-opacity="0.55"/></linearGradient>
<rect x="91" y="686" width="4" height="1" fill="#1a1a1a"/>
<rect x="91" y="679" width="4" height="1" fill="#1a1a1a"/>
<rect x="91" y="674" width="4" height="1" fill="#1a1a1a"/>
<rect x="91" y="670" width="4" height="1" fill="#1a1a1a"/>
<rect x="91" y="667" width="4" height="1" fill="#1a1a1a"/>
<rect x="91" y="664" width="4" height="1" fill="#1a1a1a"/>
<rect x="91" y="661" width="4" height="1" fill="#1a1a1a"/>
<rect x="87" y="659" width="8" height="1" fill="#1a1a1a"/>
<rect x="91" y="643" width="4" height="1" fill="#1a1a1a"/>
<rect x="91" y="634" width="4" height="1" fill="#1a1a1a"/>
<rect x="91" y="627" width="4" height="1" fill="#1a1a1a"/>
<rect x="91" y="622" width="4" height="1" fill="#1a1a1a"/>
<rect x="91" y="618" width="4" height="1" fill="#1a1a1a"/>
<rect x="91" y="614" width="4" height="1" fill="#1a1a1a"/>
<rect x="91" y="611" width="4" height="1" fill="#1a1a1a"/>
<rect x="91" y="609" width="4" height="1" fill="#1a1a1a"/>
<rect x="87" y="606" width="8" height="1" fill="#1a1a1a"/>
<rect x="91" y="591" width="4" height="1" fill="#1a1a1a"/>
<rect x="91" y="581" width="4" height="1" fill="#1a1a1a"/>
<rect x="91" y="575" width="4" height="1" fill="#1a1a1a"/>
<rect x="91" y="570" width="4" height="1" fill="#1a1a1a"/>
<rect x="91" y="566" width="4" height="1" fill="#1a1a1a"/>
<rect x="91" y="562" width="4" height="1" fill="#1a1a1a"/>
<rect x="91" y="559" width="4" height="1" fill="#1a1a1a"/>
<rect x="91" y="556" width="4" height="1" fill="#1a1a1a"/>
<rect x="87" y="554" width="8" height="1" fill="#1a1a1a"/>
<rect x="91" y="538" width="4" height="1" fill="#1a1a1a"/>
<rect x="91" y="529" width="4" height="1" fill="#1a1a1a"/>
<rect x="91" y="523" width="4" height="1" fill="#1a1a1a"/>
<rect x="91" y="517" width="4" height="1" fill="#1a1a1a"/>
<rect x="91" y="513" width="4" height="1" fill="#1a1a1a"/>
<text x="59.09" y="561.7" font-size="12">10<tspan dy="-6">4</tspan></text>
<text x="59.09" y="613.7" font-size="12">10<tspan dy="-6">3</tspan></text>
<text x="59.09" y="666.7" font-size="12">10<tspan dy="-6">2</tspan></text>
<text transform="translate(50 602.5) rotate(-90)" x="-35.65" y="0" font-size="12" textLength="71.3" lengthAdjust="spacingAndGlyphs">Energy (keV)</text>
<rect x="1092" y="515" width="12" height="177" fill="url(#cb)"/>
<rect x="1104" y="515" width="1" height="177" fill="#1a1a1a"/>
<rect x="1104" y="515" width="9" height="1" fill="#1a1a1a"/>
<rect x="1104" y="535" width="5" height="1" fill="#1a1a1a"/>
<rect x="1104" y="554" width="9" height="1" fill="#1a1a1a"/>
<rect x="1104" y="573" width="5" height="1" fill="#1a1a1a"/>
<rect x="1104" y="593" width="9" height="1" fill="#1a1a1a"/>
<rect x="1104" y="612" width="5" height="1" fill="#1a1a1a"/>
<rect x="1104" y="632" width="9" height="1" fill="#1a1a1a"/>
<rect x="1104" y="651" width="5" height="1" fill="#1a1a1a"/>
<rect x="1104" y="670" width="9" height="1" fill="#1a1a1a"/>
<rect x="1104" y="690" width="5" height="1" fill="#1a1a1a"/>
<text x="1116.6" y="522.7" font-size="12">10<tspan dy="-6">4</tspan></text>
<text x="1116.6" y="561.7" font-size="12">10<tspan dy="-6">2</tspan></text>
<text x="1116.6" y="600.7" font-size="12">10<tspan dy="-6">0</tspan></text>
<text x="1116.6" y="639.7" font-size="12">10<tspan dy="-6" textLength="5.6" lengthAdjust="spacingAndGlyphs">-</tspan><tspan>2</tspan></text>
<text x="1116.6" y="677.7" font-size="12">10<tspan dy="-6" textLength="5.6" lengthAdjust="spacingAndGlyphs">-</tspan><tspan>4</tspan></text>
<text transform="translate(1156.3 601.9) rotate(90)" x="-83" y="0" font-size="12" textLength="166" lengthAdjust="spacingAndGlyphs">intensity 1/(s cm^2 ster keV)</text>
<rect x="95" y="695" width="986" height="16" fill="#000"/>
<rect x="97" y="696" width="984" height="14" fill="#00ff00"/>
<rect x="136" y="711" width="1" height="4" fill="#1a1a1a"/>
<rect x="177" y="711" width="1" height="4" fill="#1a1a1a"/>
<rect x="218" y="711" width="1" height="8" fill="#1a1a1a"/>
<rect x="259" y="711" width="1" height="4" fill="#1a1a1a"/>
<rect x="300" y="711" width="1" height="4" fill="#1a1a1a"/>
<rect x="341" y="711" width="1" height="8" fill="#1a1a1a"/>
<rect x="382" y="711" width="1" height="4" fill="#1a1a1a"/>
<rect x="423" y="711" width="1" height="4" fill="#1a1a1a"/>
<rect x="464" y="711" width="1" height="8" fill="#1a1a1a"/>
<rect x="505" y="711" width="1" height="4" fill="#1a1a1a"/>
<rect x="546" y="711" width="1" height="4" fill="#1a1a1a"/>
<rect x="587" y="711" width="1" height="8" fill="#1a1a1a"/>
<rect x="628" y="711" width="1" height="4" fill="#1a1a1a"/>
<rect x="669" y="711" width="1" height="4" fill="#1a1a1a"/>
<rect x="710" y="711" width="1" height="8" fill="#1a1a1a"/>
<rect x="751" y="711" width="1" height="4" fill="#1a1a1a"/>
<rect x="792" y="711" width="1" height="4" fill="#1a1a1a"/>
<rect x="833" y="711" width="1" height="8" fill="#1a1a1a"/>
<rect x="874" y="711" width="1" height="4" fill="#1a1a1a"/>
<rect x="915" y="711" width="1" height="4" fill="#1a1a1a"/>
<rect x="956" y="711" width="1" height="8" fill="#1a1a1a"/>
<rect x="998" y="711" width="1" height="4" fill="#1a1a1a"/>
<rect x="1039" y="711" width="1" height="4" fill="#1a1a1a"/>
<rect x="1080" y="711" width="1" height="8" fill="#1a1a1a"/>
<text x="200.22" y="733.8" text-anchor="start" font-size="12" textLength="36" lengthAdjust="spacingAndGlyphs">03:00</text>
<text x="208.22" y="748.8" text-anchor="start" font-size="12" textLength="28" lengthAdjust="spacingAndGlyphs">2.65</text>
<text x="200.22" y="763.8" text-anchor="start" font-size="12" textLength="36" lengthAdjust="spacingAndGlyphs">57.11</text>
<text x="200.22" y="778.8" text-anchor="start" font-size="12" textLength="36" lengthAdjust="spacingAndGlyphs">80.31</text>
<text x="323.35" y="733.8" text-anchor="start" font-size="12" textLength="36" lengthAdjust="spacingAndGlyphs">06:00</text>
<text x="331.35" y="748.8" text-anchor="start" font-size="12" textLength="28" lengthAdjust="spacingAndGlyphs">2.67</text>
<text x="323.35" y="763.8" text-anchor="start" font-size="12" textLength="36" lengthAdjust="spacingAndGlyphs">57.21</text>
<text x="323.35" y="778.8" text-anchor="start" font-size="12" textLength="36" lengthAdjust="spacingAndGlyphs">80.43</text>
<text x="446.48" y="733.8" text-anchor="start" font-size="12" textLength="36" lengthAdjust="spacingAndGlyphs">09:00</text>
<text x="454.48" y="748.8" text-anchor="start" font-size="12" textLength="28" lengthAdjust="spacingAndGlyphs">2.69</text>
<text x="446.48" y="763.8" text-anchor="start" font-size="12" textLength="36" lengthAdjust="spacingAndGlyphs">57.30</text>
<text x="446.48" y="778.8" text-anchor="start" font-size="12" textLength="36" lengthAdjust="spacingAndGlyphs">80.55</text>
<text x="569.6" y="733.8" text-anchor="start" font-size="12" textLength="36" lengthAdjust="spacingAndGlyphs">12:00</text>
<text x="577.6" y="748.8" text-anchor="start" font-size="12" textLength="28" lengthAdjust="spacingAndGlyphs">2.71</text>
<text x="569.6" y="763.8" text-anchor="start" font-size="12" textLength="36" lengthAdjust="spacingAndGlyphs">57.39</text>
<text x="569.6" y="778.8" text-anchor="start" font-size="12" textLength="36" lengthAdjust="spacingAndGlyphs">80.66</text>
<text x="692.73" y="733.8" text-anchor="start" font-size="12" textLength="36" lengthAdjust="spacingAndGlyphs">15:00</text>
<text x="700.73" y="748.8" text-anchor="start" font-size="12" textLength="28" lengthAdjust="spacingAndGlyphs">2.73</text>
<text x="692.73" y="763.8" text-anchor="start" font-size="12" textLength="36" lengthAdjust="spacingAndGlyphs">57.47</text>
<text x="692.73" y="778.8" text-anchor="start" font-size="12" textLength="36" lengthAdjust="spacingAndGlyphs">80.77</text>
<text x="815.85" y="733.8" text-anchor="start" font-size="12" textLength="36" lengthAdjust="spacingAndGlyphs">18:00</text>
<text x="823.85" y="748.8" text-anchor="start" font-size="12" textLength="28" lengthAdjust="spacingAndGlyphs">2.75</text>
<text x="815.85" y="763.8" text-anchor="start" font-size="12" textLength="36" lengthAdjust="spacingAndGlyphs">57.55</text>
<text x="815.85" y="778.8" text-anchor="start" font-size="12" textLength="36" lengthAdjust="spacingAndGlyphs">80.86</text>
<text x="938.98" y="733.8" text-anchor="start" font-size="12" textLength="36" lengthAdjust="spacingAndGlyphs">21:00</text>
<text x="946.98" y="748.8" text-anchor="start" font-size="12" textLength="28" lengthAdjust="spacingAndGlyphs">2.77</text>
<text x="938.98" y="763.8" text-anchor="start" font-size="12" textLength="36" lengthAdjust="spacingAndGlyphs">57.63</text>
<text x="938.98" y="778.8" text-anchor="start" font-size="12" textLength="36" lengthAdjust="spacingAndGlyphs">80.95</text>
<text x="1062.1" y="733.8" text-anchor="start" font-size="12" textLength="36" lengthAdjust="spacingAndGlyphs">00:00</text>
<text x="1070.1" y="748.8" text-anchor="start" font-size="12" textLength="28" lengthAdjust="spacingAndGlyphs">2.79</text>
<text x="1062.1" y="763.8" text-anchor="start" font-size="12" textLength="36" lengthAdjust="spacingAndGlyphs">57.70</text>
<text x="1062.1" y="778.8" text-anchor="start" font-size="12" textLength="36" lengthAdjust="spacingAndGlyphs">81.03</text>
<text x="1062.3" y="745.9" text-anchor="start" font-size="12" textLength="61.3" lengthAdjust="spacingAndGlyphs">2015-056</text>
<text x="16.5" y="748.7" text-anchor="start" font-size="12" textLength="43.3" lengthAdjust="spacingAndGlyphs">LT (hrs)</text>
<text x="46.5" y="763.7" text-anchor="start" font-size="12" textLength="13.3" lengthAdjust="spacingAndGlyphs">Rs</text>
<text x="13.5" y="778.7" text-anchor="start" font-size="12" textLength="46.3" lengthAdjust="spacingAndGlyphs">Dipole L</text>
<rect x="215" y="802" width="152" height="1" fill="#1a1a1a"/>
<rect x="207" y="950" width="160" height="1" fill="#1a1a1a"/>
<rect x="215" y="802" width="1" height="149" fill="#1a1a1a"/>
<rect x="366" y="802" width="1" height="157" fill="#1a1a1a"/>
<rect x="207" y="803" width="8" height="1" fill="#1a1a1a"/>
<text x="176.82" y="807.5" font-size="12"><tspan textLength="5.6" lengthAdjust="spacingAndGlyphs">-</tspan><tspan>40.</tspan></text>
<rect x="211" y="805" width="4" height="1" fill="#1a1a1a"/>
<rect x="211" y="807" width="4" height="1" fill="#1a1a1a"/>
<rect x="211" y="808" width="4" height="1" fill="#1a1a1a"/>
<rect x="211" y="810" width="4" height="1" fill="#1a1a1a"/>
<rect x="211" y="812" width="4" height="1" fill="#1a1a1a"/>
<rect x="211" y="814" width="4" height="1" fill="#1a1a1a"/>
<rect x="211" y="816" width="4" height="1" fill="#1a1a1a"/>
<rect x="211" y="818" width="4" height="1" fill="#1a1a1a"/>
<rect x="211" y="819" width="4" height="1" fill="#1a1a1a"/>
<rect x="207" y="821" width="8" height="1" fill="#1a1a1a"/>
<text x="176.82" y="825.5" font-size="12"><tspan textLength="5.6" lengthAdjust="spacingAndGlyphs">-</tspan><tspan>30.</tspan></text>
<rect x="211" y="823" width="4" height="1" fill="#1a1a1a"/>
<rect x="211" y="825" width="4" height="1" fill="#1a1a1a"/>
<rect x="211" y="827" width="4" height="1" fill="#1a1a1a"/>
<rect x="211" y="829" width="4" height="1" fill="#1a1a1a"/>
<rect x="211" y="830" width="4" height="1" fill="#1a1a1a"/>
<rect x="211" y="832" width="4" height="1" fill="#1a1a1a"/>
<rect x="211" y="834" width="4" height="1" fill="#1a1a1a"/>
<rect x="211" y="836" width="4" height="1" fill="#1a1a1a"/>
<rect x="211" y="838" width="4" height="1" fill="#1a1a1a"/>
<rect x="207" y="839" width="8" height="1" fill="#1a1a1a"/>
<text x="176.82" y="843.5" font-size="12"><tspan textLength="5.6" lengthAdjust="spacingAndGlyphs">-</tspan><tspan>20.</tspan></text>
<rect x="211" y="841" width="4" height="1" fill="#1a1a1a"/>
<rect x="211" y="843" width="4" height="1" fill="#1a1a1a"/>
<rect x="211" y="845" width="4" height="1" fill="#1a1a1a"/>
<rect x="211" y="847" width="4" height="1" fill="#1a1a1a"/>
<rect x="211" y="849" width="4" height="1" fill="#1a1a1a"/>
<rect x="211" y="850" width="4" height="1" fill="#1a1a1a"/>
<rect x="211" y="852" width="4" height="1" fill="#1a1a1a"/>
<rect x="211" y="854" width="4" height="1" fill="#1a1a1a"/>
<rect x="211" y="856" width="4" height="1" fill="#1a1a1a"/>
<rect x="207" y="858" width="8" height="1" fill="#1a1a1a"/>
<text x="176.82" y="862.5" font-size="12"><tspan textLength="5.6" lengthAdjust="spacingAndGlyphs">-</tspan><tspan>10.</tspan></text>
<rect x="211" y="859" width="4" height="1" fill="#1a1a1a"/>
<rect x="211" y="861" width="4" height="1" fill="#1a1a1a"/>
<rect x="211" y="863" width="4" height="1" fill="#1a1a1a"/>
<rect x="211" y="865" width="4" height="1" fill="#1a1a1a"/>
<rect x="211" y="867" width="4" height="1" fill="#1a1a1a"/>
<rect x="211" y="869" width="4" height="1" fill="#1a1a1a"/>
<rect x="211" y="870" width="4" height="1" fill="#1a1a1a"/>
<rect x="211" y="872" width="4" height="1" fill="#1a1a1a"/>
<rect x="211" y="874" width="4" height="1" fill="#1a1a1a"/>
<rect x="207" y="876" width="8" height="1" fill="#1a1a1a"/>
<text x="201.5" y="880.5" text-anchor="end" font-size="12">0.</text>
<rect x="211" y="878" width="4" height="1" fill="#1a1a1a"/>
<rect x="211" y="880" width="4" height="1" fill="#1a1a1a"/>
<rect x="211" y="881" width="4" height="1" fill="#1a1a1a"/>
<rect x="211" y="883" width="4" height="1" fill="#1a1a1a"/>
<rect x="211" y="885" width="4" height="1" fill="#1a1a1a"/>
<rect x="211" y="887" width="4" height="1" fill="#1a1a1a"/>
<rect x="211" y="889" width="4" height="1" fill="#1a1a1a"/>
<rect x="211" y="890" width="4" height="1" fill="#1a1a1a"/>
<rect x="211" y="892" width="4" height="1" fill="#1a1a1a"/>
<rect x="207" y="894" width="8" height="1" fill="#1a1a1a"/>
<text x="201.5" y="898.5" text-anchor="end" font-size="12">10.</text>
<rect x="211" y="896" width="4" height="1" fill="#1a1a1a"/>
<rect x="211" y="898" width="4" height="1" fill="#1a1a1a"/>
<rect x="211" y="900" width="4" height="1" fill="#1a1a1a"/>
<rect x="211" y="901" width="4" height="1" fill="#1a1a1a"/>
<rect x="211" y="903" width="4" height="1" fill="#1a1a1a"/>
<rect x="211" y="905" width="4" height="1" fill="#1a1a1a"/>
<rect x="211" y="907" width="4" height="1" fill="#1a1a1a"/>
<rect x="211" y="909" width="4" height="1" fill="#1a1a1a"/>
<rect x="211" y="911" width="4" height="1" fill="#1a1a1a"/>
<rect x="207" y="912" width="8" height="1" fill="#1a1a1a"/>
<text x="201.5" y="916.5" text-anchor="end" font-size="12">20.</text>
<rect x="211" y="914" width="4" height="1" fill="#1a1a1a"/>
<rect x="211" y="916" width="4" height="1" fill="#1a1a1a"/>
<rect x="211" y="918" width="4" height="1" fill="#1a1a1a"/>
<rect x="211" y="920" width="4" height="1" fill="#1a1a1a"/>
<rect x="211" y="921" width="4" height="1" fill="#1a1a1a"/>
<rect x="211" y="923" width="4" height="1" fill="#1a1a1a"/>
<rect x="211" y="925" width="4" height="1" fill="#1a1a1a"/>
<rect x="211" y="927" width="4" height="1" fill="#1a1a1a"/>
<rect x="211" y="929" width="4" height="1" fill="#1a1a1a"/>
<rect x="207" y="931" width="8" height="1" fill="#1a1a1a"/>
<text x="201.5" y="935.5" text-anchor="end" font-size="12">30.</text>
<rect x="211" y="932" width="4" height="1" fill="#1a1a1a"/>
<rect x="211" y="934" width="4" height="1" fill="#1a1a1a"/>
<rect x="211" y="936" width="4" height="1" fill="#1a1a1a"/>
<rect x="211" y="938" width="4" height="1" fill="#1a1a1a"/>
<rect x="211" y="940" width="4" height="1" fill="#1a1a1a"/>
<rect x="211" y="942" width="4" height="1" fill="#1a1a1a"/>
<rect x="211" y="943" width="4" height="1" fill="#1a1a1a"/>
<rect x="211" y="945" width="4" height="1" fill="#1a1a1a"/>
<rect x="211" y="947" width="4" height="1" fill="#1a1a1a"/>
<rect x="207" y="949" width="8" height="1" fill="#1a1a1a"/>
<text x="201.5" y="953.5" text-anchor="end" font-size="12">40.</text>
<rect x="366" y="950" width="1" height="9" fill="#1a1a1a"/>
<text x="353.46" y="973.6" font-size="12"><tspan textLength="5.6" lengthAdjust="spacingAndGlyphs">-</tspan><tspan>40.</tspan></text>
<rect x="347" y="950" width="1" height="5" fill="#1a1a1a"/>
<rect x="328" y="950" width="1" height="9" fill="#1a1a1a"/>
<text x="315.46" y="973.6" font-size="12"><tspan textLength="5.6" lengthAdjust="spacingAndGlyphs">-</tspan><tspan>20.</tspan></text>
<rect x="310" y="950" width="1" height="5" fill="#1a1a1a"/>
<rect x="291" y="950" width="1" height="9" fill="#1a1a1a"/>
<text x="290.8" y="973.6" text-anchor="middle" font-size="12">0.</text>
<rect x="272" y="950" width="1" height="5" fill="#1a1a1a"/>
<rect x="254" y="950" width="1" height="9" fill="#1a1a1a"/>
<text x="253.8" y="973.6" text-anchor="middle" font-size="12">20.</text>
<rect x="235" y="950" width="1" height="5" fill="#1a1a1a"/>
<rect x="216" y="950" width="1" height="9" fill="#1a1a1a"/>
<text x="215.8" y="973.6" text-anchor="middle" font-size="12">40.</text>
<text x="271" y="992" font-size="12"><tspan textLength="23.2" lengthAdjust="spacingAndGlyphs">KSM</tspan><tspan textLength="6.6" lengthAdjust="spacingAndGlyphs">-</tspan><tspan>X</tspan></text>
<text transform="translate(167 876) rotate(-90)" x="-19" y="0" font-size="12"><tspan textLength="23.2" lengthAdjust="spacingAndGlyphs">KSM</tspan><tspan textLength="6.6" lengthAdjust="spacingAndGlyphs">-</tspan><tspan>Y</tspan></text>
<clipPath id="c1a"><rect x="216" y="803" width="150" height="147"/></clipPath>
<polyline clip-path="url(#c1a)" points="253.26,796.71 251.99,798.53 250.76,800.36 249.55,802.18 248.38,804 247.23,805.82 246.11,807.64 245.02,809.47 243.96,811.29 242.93,813.11 241.92,814.93 240.95,816.76 240,818.58 239.09,820.4 238.2,822.23 237.35,824.05 236.52,825.87 235.72,827.69 234.95,829.51 234.21,831.34 233.5,833.16 232.81,834.98 232.16,836.8 231.53,838.63 230.94,840.45 230.37,842.27 229.83,844.1 229.32,845.92 228.84,847.74 228.39,849.56 227.97,851.38 227.58,853.21 227.22,855.03 226.88,856.85 226.58,858.67 226.3,860.5 226.06,862.32 225.84,864.14 225.65,865.97 225.49,867.79 225.36,869.61 225.26,871.43 225.18,873.25 225.14,875.08 225.12,876.9 225.14,878.72 225.18,880.54 225.26,882.37 225.36,884.19 225.49,886.01 225.65,887.83 225.84,889.66 226.06,891.48 226.3,893.3 226.58,895.12 226.88,896.95 227.22,898.77 227.58,900.59 227.97,902.41 228.39,904.24 228.84,906.06 229.32,907.88 229.83,909.7 230.37,911.53 230.94,913.35 231.53,915.17 232.16,917 232.81,918.82 233.5,920.64 234.21,922.46 234.95,924.28 235.72,926.11 236.52,927.93 237.35,929.75 238.2,931.57 239.09,933.4 240,935.22 240.95,937.04 241.92,938.87 242.93,940.69 243.96,942.51 245.02,944.33 246.11,946.15 247.23,947.98 248.38,949.8 249.55,951.62 250.76,953.44 251.99,955.27 253.26,957.09" fill="none" stroke="#0000ff" stroke-width="1" opacity="0.08"/>
<polyline clip-path="url(#c1a)" points="253.26,796.71 251.99,798.53 250.76,800.36 249.55,802.18 248.38,804 247.23,805.82 246.11,807.64 245.02,809.47 243.96,811.29 242.93,813.11 241.92,814.93 240.95,816.76 240,818.58 239.09,820.4 238.2,822.23 237.35,824.05 236.52,825.87 235.72,827.69 234.95,829.51 234.21,831.34 233.5,833.16 232.81,834.98 232.16,836.8 231.53,838.63 230.94,840.45 230.37,842.27 229.83,844.1 229.32,845.92 228.84,847.74 228.39,849.56 227.97,851.38 227.58,853.21 227.22,855.03 226.88,856.85 226.58,858.67 226.3,860.5 226.06,862.32 225.84,864.14 225.65,865.97 225.49,867.79 225.36,869.61 225.26,871.43 225.18,873.25 225.14,875.08 225.12,876.9 225.14,878.72 225.18,880.54 225.26,882.37 225.36,884.19 225.49,886.01 225.65,887.83 225.84,889.66 226.06,891.48 226.3,893.3 226.58,895.12 226.88,896.95 227.22,898.77 227.58,900.59 227.97,902.41 228.39,904.24 228.84,906.06 229.32,907.88 229.83,909.7 230.37,911.53 230.94,913.35 231.53,915.17 232.16,917 232.81,918.82 233.5,920.64 234.21,922.46 234.95,924.28 235.72,926.11 236.52,927.93 237.35,929.75 238.2,931.57 239.09,933.4 240,935.22 240.95,937.04 241.92,938.87 242.93,940.69 243.96,942.51 245.02,944.33 246.11,946.15 247.23,947.98 248.38,949.8 249.55,951.62 250.76,953.44 251.99,955.27 253.26,957.09" fill="none" stroke="#0000ff" stroke-width="1.25" stroke-dasharray="2 1.8"/>
<clipPath id="c1b"><rect x="216" y="803" width="150" height="147"/></clipPath>
<polyline clip-path="url(#c1b)" points="292.11,796.71 289.87,798.53 287.69,800.36 285.56,802.18 283.48,804 281.45,805.82 279.47,807.64 277.54,809.47 275.67,811.29 273.84,813.11 272.07,814.93 270.35,816.76 268.68,818.58 267.06,820.4 265.49,822.23 263.98,824.05 262.51,825.87 261.1,827.69 259.74,829.51 258.43,831.34 257.17,833.16 255.96,834.98 254.81,836.8 253.7,838.63 252.65,840.45 251.65,842.27 250.7,844.1 249.8,845.92 248.95,847.74 248.15,849.56 247.41,851.38 246.72,853.21 246.07,855.03 245.48,856.85 244.94,858.67 244.46,860.5 244.02,862.32 243.63,864.14 243.3,865.97 243.02,867.79 242.79,869.61 242.61,871.43 242.48,873.25 242.4,875.08 242.38,876.9 242.4,878.72 242.48,880.54 242.61,882.37 242.79,884.19 243.02,886.01 243.3,887.83 243.63,889.66 244.02,891.48 244.46,893.3 244.94,895.12 245.48,896.95 246.07,898.77 246.72,900.59 247.41,902.41 248.15,904.24 248.95,906.06 249.8,907.88 250.7,909.7 251.65,911.53 252.65,913.35 253.7,915.17 254.81,917 255.96,918.82 257.17,920.64 258.43,922.46 259.74,924.28 261.1,926.11 262.51,927.93 263.98,929.75 265.49,931.57 267.06,933.4 268.68,935.22 270.35,937.04 272.07,938.87 273.84,940.69 275.67,942.51 277.54,944.33 279.47,946.15 281.45,947.98 283.48,949.8 285.56,951.62 287.69,953.44 289.87,955.27 292.11,957.09" fill="none" stroke="#7a3c00" stroke-width="1" opacity="0.28"/>
<polyline clip-path="url(#c1b)" points="292.11,796.71 289.87,798.53 287.69,800.36 285.56,802.18 283.48,804 281.45,805.82 279.47,807.64 277.54,809.47 275.67,811.29 273.84,813.11 272.07,814.93 270.35,816.76 268.68,818.58 267.06,820.4 265.49,822.23 263.98,824.05 262.51,825.87 261.1,827.69 259.74,829.51 258.43,831.34 257.17,833.16 255.96,834.98 254.81,836.8 253.7,838.63 252.65,840.45 251.65,842.27 250.7,844.1 249.8,845.92 248.95,847.74 248.15,849.56 247.41,851.38 246.72,853.21 246.07,855.03 245.48,856.85 244.94,858.67 244.46,860.5 244.02,862.32 243.63,864.14 243.3,865.97 243.02,867.79 242.79,869.61 242.61,871.43 242.48,873.25 242.4,875.08 242.38,876.9 242.4,878.72 242.48,880.54 242.61,882.37 242.79,884.19 243.02,886.01 243.3,887.83 243.63,889.66 244.02,891.48 244.46,893.3 244.94,895.12 245.48,896.95 246.07,898.77 246.72,900.59 247.41,902.41 248.15,904.24 248.95,906.06 249.8,907.88 250.7,909.7 251.65,911.53 252.65,913.35 253.7,915.17 254.81,917 255.96,918.82 257.17,920.64 258.43,922.46 259.74,924.28 261.1,926.11 262.51,927.93 263.98,929.75 265.49,931.57 267.06,933.4 268.68,935.22 270.35,937.04 272.07,938.87 273.84,940.69 275.67,942.51 277.54,944.33 279.47,946.15 281.45,947.98 283.48,949.8 285.56,951.62 287.69,953.44 289.87,955.27 292.11,957.09" fill="none" stroke="#7a3c00" stroke-width="1.25" stroke-dasharray="2 1.8"/>
<ellipse cx="291.5" cy="878" rx="35" ry="37.3" fill="none" stroke="#000" stroke-width="1.3"/>
<path d="M289.5 875.5h3.2q.6 1.6-1 2.8q-2.2 0-2.2-2.8z" fill="none" stroke="#000" stroke-width="0.9"/>
<circle cx="285.5" cy="914.5" r="2.7" fill="#f00"/>
<path d="M356.5 802.5L358.5 805L362 813.5L362.6 829.5" fill="none" stroke="#000" stroke-width="1.2"/>
<path d="M363.5 819.5V826" fill="none" stroke="#000" stroke-width="1.4"/>
<path d="M357.5 804.5L360.5 804L361.8 806L362.2 808.5L363.8 810.2L362.5 812.8L360.5 812.5L358.3 809z" fill="#00f" stroke="#00f" stroke-width="0.8"/>
<path d="M356 804.8L365 813.8M356 813.8L365 804.8" stroke="#f00" stroke-width="1" fill="none"/>
<rect x="509" y="802" width="152" height="1" fill="#1a1a1a"/>
<rect x="501" y="950" width="160" height="1" fill="#1a1a1a"/>
<rect x="509" y="802" width="1" height="149" fill="#1a1a1a"/>
<rect x="660" y="802" width="1" height="157" fill="#1a1a1a"/>
<rect x="501" y="950" width="8" height="1" fill="#1a1a1a"/>
<text x="470.82" y="954.5" font-size="12"><tspan textLength="5.6" lengthAdjust="spacingAndGlyphs">-</tspan><tspan>40.</tspan></text>
<rect x="505" y="948" width="4" height="1" fill="#1a1a1a"/>
<rect x="505" y="946" width="4" height="1" fill="#1a1a1a"/>
<rect x="505" y="944" width="4" height="1" fill="#1a1a1a"/>
<rect x="505" y="943" width="4" height="1" fill="#1a1a1a"/>
<rect x="505" y="941" width="4" height="1" fill="#1a1a1a"/>
<rect x="505" y="939" width="4" height="1" fill="#1a1a1a"/>
<rect x="505" y="937" width="4" height="1" fill="#1a1a1a"/>
<rect x="505" y="935" width="4" height="1" fill="#1a1a1a"/>
<rect x="505" y="933" width="4" height="1" fill="#1a1a1a"/>
<rect x="501" y="931" width="8" height="1" fill="#1a1a1a"/>
<text x="470.82" y="935.5" font-size="12"><tspan textLength="5.6" lengthAdjust="spacingAndGlyphs">-</tspan><tspan>30.</tspan></text>
<rect x="505" y="930" width="4" height="1" fill="#1a1a1a"/>
<rect x="505" y="928" width="4" height="1" fill="#1a1a1a"/>
<rect x="505" y="926" width="4" height="1" fill="#1a1a1a"/>
<rect x="505" y="924" width="4" height="1" fill="#1a1a1a"/>
<rect x="505" y="922" width="4" height="1" fill="#1a1a1a"/>
<rect x="505" y="920" width="4" height="1" fill="#1a1a1a"/>
<rect x="505" y="919" width="4" height="1" fill="#1a1a1a"/>
<rect x="505" y="917" width="4" height="1" fill="#1a1a1a"/>
<rect x="505" y="915" width="4" height="1" fill="#1a1a1a"/>
<rect x="501" y="913" width="8" height="1" fill="#1a1a1a"/>
<text x="470.82" y="917.5" font-size="12"><tspan textLength="5.6" lengthAdjust="spacingAndGlyphs">-</tspan><tspan>20.</tspan></text>
<rect x="505" y="911" width="4" height="1" fill="#1a1a1a"/>
<rect x="505" y="909" width="4" height="1" fill="#1a1a1a"/>
<rect x="505" y="907" width="4" height="1" fill="#1a1a1a"/>
<rect x="505" y="906" width="4" height="1" fill="#1a1a1a"/>
<rect x="505" y="904" width="4" height="1" fill="#1a1a1a"/>
<rect x="505" y="902" width="4" height="1" fill="#1a1a1a"/>
<rect x="505" y="900" width="4" height="1" fill="#1a1a1a"/>
<rect x="505" y="898" width="4" height="1" fill="#1a1a1a"/>
<rect x="505" y="896" width="4" height="1" fill="#1a1a1a"/>
<rect x="501" y="894" width="8" height="1" fill="#1a1a1a"/>
<text x="470.82" y="898.5" font-size="12"><tspan textLength="5.6" lengthAdjust="spacingAndGlyphs">-</tspan><tspan>10.</tspan></text>
<rect x="505" y="893" width="4" height="1" fill="#1a1a1a"/>
<rect x="505" y="891" width="4" height="1" fill="#1a1a1a"/>
<rect x="505" y="889" width="4" height="1" fill="#1a1a1a"/>
<rect x="505" y="887" width="4" height="1" fill="#1a1a1a"/>
<rect x="505" y="885" width="4" height="1" fill="#1a1a1a"/>
<rect x="505" y="883" width="4" height="1" fill="#1a1a1a"/>
<rect x="505" y="882" width="4" height="1" fill="#1a1a1a"/>
<rect x="505" y="880" width="4" height="1" fill="#1a1a1a"/>
<rect x="505" y="878" width="4" height="1" fill="#1a1a1a"/>
<rect x="501" y="876" width="8" height="1" fill="#1a1a1a"/>
<text x="495.5" y="880.5" text-anchor="end" font-size="12">0.</text>
<rect x="505" y="874" width="4" height="1" fill="#1a1a1a"/>
<rect x="505" y="872" width="4" height="1" fill="#1a1a1a"/>
<rect x="505" y="870" width="4" height="1" fill="#1a1a1a"/>
<rect x="505" y="869" width="4" height="1" fill="#1a1a1a"/>
<rect x="505" y="867" width="4" height="1" fill="#1a1a1a"/>
<rect x="505" y="865" width="4" height="1" fill="#1a1a1a"/>
<rect x="505" y="863" width="4" height="1" fill="#1a1a1a"/>
<rect x="505" y="861" width="4" height="1" fill="#1a1a1a"/>
<rect x="505" y="859" width="4" height="1" fill="#1a1a1a"/>
<rect x="501" y="857" width="8" height="1" fill="#1a1a1a"/>
<text x="495.5" y="861.5" text-anchor="end" font-size="12">10.</text>
<rect x="505" y="856" width="4" height="1" fill="#1a1a1a"/>
<rect x="505" y="854" width="4" height="1" fill="#1a1a1a"/>
<rect x="505" y="852" width="4" height="1" fill="#1a1a1a"/>
<rect x="505" y="850" width="4" height="1" fill="#1a1a1a"/>
<rect x="505" y="848" width="4" height="1" fill="#1a1a1a"/>
<rect x="505" y="846" width="4" height="1" fill="#1a1a1a"/>
<rect x="505" y="844" width="4" height="1" fill="#1a1a1a"/>
<rect x="505" y="843" width="4" height="1" fill="#1a1a1a"/>
<rect x="505" y="841" width="4" height="1" fill="#1a1a1a"/>
<rect x="501" y="839" width="8" height="1" fill="#1a1a1a"/>
<text x="495.5" y="843.5" text-anchor="end" font-size="12">20.</text>
<rect x="505" y="837" width="4" height="1" fill="#1a1a1a"/>
<rect x="505" y="835" width="4" height="1" fill="#1a1a1a"/>
<rect x="505" y="833" width="4" height="1" fill="#1a1a1a"/>
<rect x="505" y="832" width="4" height="1" fill="#1a1a1a"/>
<rect x="505" y="830" width="4" height="1" fill="#1a1a1a"/>
<rect x="505" y="828" width="4" height="1" fill="#1a1a1a"/>
<rect x="505" y="826" width="4" height="1" fill="#1a1a1a"/>
<rect x="505" y="824" width="4" height="1" fill="#1a1a1a"/>
<rect x="505" y="822" width="4" height="1" fill="#1a1a1a"/>
<rect x="501" y="820" width="8" height="1" fill="#1a1a1a"/>
<text x="495.5" y="824.5" text-anchor="end" font-size="12">30.</text>
<rect x="505" y="819" width="4" height="1" fill="#1a1a1a"/>
<rect x="505" y="817" width="4" height="1" fill="#1a1a1a"/>
<rect x="505" y="815" width="4" height="1" fill="#1a1a1a"/>
<rect x="505" y="813" width="4" height="1" fill="#1a1a1a"/>
<rect x="505" y="811" width="4" height="1" fill="#1a1a1a"/>
<rect x="505" y="809" width="4" height="1" fill="#1a1a1a"/>
<rect x="505" y="807" width="4" height="1" fill="#1a1a1a"/>
<rect x="505" y="806" width="4" height="1" fill="#1a1a1a"/>
<rect x="505" y="804" width="4" height="1" fill="#1a1a1a"/>
<rect x="501" y="802" width="8" height="1" fill="#1a1a1a"/>
<text x="495.5" y="806.5" text-anchor="end" font-size="12">40.</text>
<rect x="660" y="950" width="1" height="9" fill="#1a1a1a"/>
<text x="647.46" y="973.6" font-size="12"><tspan textLength="5.6" lengthAdjust="spacingAndGlyphs">-</tspan><tspan>40.</tspan></text>
<rect x="641" y="950" width="1" height="5" fill="#1a1a1a"/>
<rect x="622" y="950" width="1" height="9" fill="#1a1a1a"/>
<text x="609.46" y="973.6" font-size="12"><tspan textLength="5.6" lengthAdjust="spacingAndGlyphs">-</tspan><tspan>20.</tspan></text>
<rect x="604" y="950" width="1" height="5" fill="#1a1a1a"/>
<rect x="585" y="950" width="1" height="9" fill="#1a1a1a"/>
<text x="584.8" y="973.6" text-anchor="middle" font-size="12">0.</text>
<rect x="566" y="950" width="1" height="5" fill="#1a1a1a"/>
<rect x="548" y="950" width="1" height="9" fill="#1a1a1a"/>
<text x="547.8" y="973.6" text-anchor="middle" font-size="12">20.</text>
<rect x="529" y="950" width="1" height="5" fill="#1a1a1a"/>
<rect x="510" y="950" width="1" height="9" fill="#1a1a1a"/>
<text x="509.8" y="973.6" text-anchor="middle" font-size="12">40.</text>
<text x="565" y="992" font-size="12"><tspan textLength="23.2" lengthAdjust="spacingAndGlyphs">KSM</tspan><tspan textLength="6.6" lengthAdjust="spacingAndGlyphs">-</tspan><tspan>X</tspan></text>
<text transform="translate(461 876) rotate(-90)" x="-19" y="0" font-size="12"><tspan textLength="23.2" lengthAdjust="spacingAndGlyphs">KSM</tspan><tspan textLength="6.6" lengthAdjust="spacingAndGlyphs">-</tspan><tspan>Z</tspan></text>
<clipPath id="c2a"><rect x="510" y="803" width="150" height="147"/></clipPath>
<polyline clip-path="url(#c2a)" points="547.26,958.4 545.99,956.55 544.76,954.7 543.55,952.85 542.38,951 541.23,949.15 540.11,947.3 539.02,945.45 537.96,943.6 536.93,941.74 535.92,939.89 534.95,938.04 534,936.19 533.09,934.34 532.2,932.49 531.35,930.64 530.52,928.78 529.72,926.93 528.95,925.08 528.21,923.23 527.5,921.38 526.81,919.53 526.16,917.68 525.53,915.83 524.94,913.98 524.37,912.12 523.83,910.27 523.32,908.42 522.85,906.57 522.39,904.72 521.97,902.87 521.58,901.02 521.22,899.16 520.88,897.31 520.58,895.46 520.3,893.61 520.06,891.76 519.84,889.91 519.65,888.06 519.49,886.21 519.36,884.36 519.26,882.5 519.18,880.65 519.14,878.8 519.12,876.95 519.14,875.1 519.18,873.25 519.26,871.4 519.36,869.54 519.49,867.69 519.65,865.84 519.84,863.99 520.06,862.14 520.3,860.29 520.58,858.44 520.88,856.59 521.22,854.74 521.58,852.88 521.97,851.03 522.39,849.18 522.85,847.33 523.32,845.48 523.83,843.63 524.37,841.78 524.94,839.92 525.53,838.07 526.16,836.22 526.81,834.37 527.5,832.52 528.21,830.67 528.95,828.82 529.72,826.97 530.52,825.12 531.35,823.26 532.2,821.41 533.09,819.56 534,817.71 534.95,815.86 535.92,814.01 536.93,812.16 537.96,810.3 539.02,808.45 540.11,806.6 541.23,804.75 542.38,802.9 543.55,801.05 544.76,799.2 545.99,797.35 547.26,795.5" fill="none" stroke="#0000ff" stroke-width="1" opacity="0.08"/>
<polyline clip-path="url(#c2a)" points="547.26,958.4 545.99,956.55 544.76,954.7 543.55,952.85 542.38,951 541.23,949.15 540.11,947.3 539.02,945.45 537.96,943.6 536.93,941.74 535.92,939.89 534.95,938.04 534,936.19 533.09,934.34 532.2,932.49 531.35,930.64 530.52,928.78 529.72,926.93 528.95,925.08 528.21,923.23 527.5,921.38 526.81,919.53 526.16,917.68 525.53,915.83 524.94,913.98 524.37,912.12 523.83,910.27 523.32,908.42 522.85,906.57 522.39,904.72 521.97,902.87 521.58,901.02 521.22,899.16 520.88,897.31 520.58,895.46 520.3,893.61 520.06,891.76 519.84,889.91 519.65,888.06 519.49,886.21 519.36,884.36 519.26,882.5 519.18,880.65 519.14,878.8 519.12,876.95 519.14,875.1 519.18,873.25 519.26,871.4 519.36,869.54 519.49,867.69 519.65,865.84 519.84,863.99 520.06,862.14 520.3,860.29 520.58,858.44 520.88,856.59 521.22,854.74 521.58,852.88 521.97,851.03 522.39,849.18 522.85,847.33 523.32,845.48 523.83,843.63 524.37,841.78 524.94,839.92 525.53,838.07 526.16,836.22 526.81,834.37 527.5,832.52 528.21,830.67 528.95,828.82 529.72,826.97 530.52,825.12 531.35,823.26 532.2,821.41 533.09,819.56 534,817.71 534.95,815.86 535.92,814.01 536.93,812.16 537.96,810.3 539.02,808.45 540.11,806.6 541.23,804.75 542.38,802.9 543.55,801.05 544.76,799.2 545.99,797.35 547.26,795.5" fill="none" stroke="#0000ff" stroke-width="1.25" stroke-dasharray="2 1.8"/>
<clipPath id="c2b"><rect x="510" y="803" width="150" height="147"/></clipPath>
<polyline clip-path="url(#c2b)" points="586.11,958.4 583.87,956.55 581.69,954.7 579.56,952.85 577.48,951 575.45,949.15 573.47,947.3 571.54,945.45 569.67,943.6 567.84,941.74 566.07,939.89 564.35,938.04 562.68,936.19 561.06,934.34 559.49,932.49 557.98,930.64 556.51,928.78 555.1,926.93 553.74,925.08 552.43,923.23 551.17,921.38 549.96,919.53 548.81,917.68 547.7,915.83 546.65,913.98 545.65,912.12 544.7,910.27 543.8,908.42 542.95,906.57 542.15,904.72 541.41,902.87 540.72,901.02 540.07,899.16 539.48,897.31 538.94,895.46 538.46,893.61 538.02,891.76 537.63,889.91 537.3,888.06 537.02,886.21 536.79,884.36 536.61,882.5 536.48,880.65 536.4,878.8 536.38,876.95 536.4,875.1 536.48,873.25 536.61,871.4 536.79,869.54 537.02,867.69 537.3,865.84 537.63,863.99 538.02,862.14 538.46,860.29 538.94,858.44 539.48,856.59 540.07,854.74 540.72,852.88 541.41,851.03 542.15,849.18 542.95,847.33 543.8,845.48 544.7,843.63 545.65,841.78 546.65,839.92 547.7,838.07 548.81,836.22 549.96,834.37 551.17,832.52 552.43,830.67 553.74,828.82 555.1,826.97 556.51,825.12 557.98,823.26 559.49,821.41 561.06,819.56 562.68,817.71 564.35,815.86 566.07,814.01 567.84,812.16 569.67,810.3 571.54,808.45 573.47,806.6 575.45,804.75 577.48,802.9 579.56,801.05 581.69,799.2 583.87,797.35 586.11,795.5" fill="none" stroke="#7a3c00" stroke-width="1" opacity="0.28"/>
<polyline clip-path="url(#c2b)" points="586.11,958.4 583.87,956.55 581.69,954.7 579.56,952.85 577.48,951 575.45,949.15 573.47,947.3 571.54,945.45 569.67,943.6 567.84,941.74 566.07,939.89 564.35,938.04 562.68,936.19 561.06,934.34 559.49,932.49 557.98,930.64 556.51,928.78 555.1,926.93 553.74,925.08 552.43,923.23 551.17,921.38 549.96,919.53 548.81,917.68 547.7,915.83 546.65,913.98 545.65,912.12 544.7,910.27 543.8,908.42 542.95,906.57 542.15,904.72 541.41,902.87 540.72,901.02 540.07,899.16 539.48,897.31 538.94,895.46 538.46,893.61 538.02,891.76 537.63,889.91 537.3,888.06 537.02,886.21 536.79,884.36 536.61,882.5 536.48,880.65 536.4,878.8 536.38,876.95 536.4,875.1 536.48,873.25 536.61,871.4 536.79,869.54 537.02,867.69 537.3,865.84 537.63,863.99 538.02,862.14 538.46,860.29 538.94,858.44 539.48,856.59 540.07,854.74 540.72,852.88 541.41,851.03 542.15,849.18 542.95,847.33 543.8,845.48 544.7,843.63 545.65,841.78 546.65,839.92 547.7,838.07 548.81,836.22 549.96,834.37 551.17,832.52 552.43,830.67 553.74,828.82 555.1,826.97 556.51,825.12 557.98,823.26 559.49,821.41 561.06,819.56 562.68,817.71 564.35,815.86 566.07,814.01 567.84,812.16 569.67,810.3 571.54,808.45 573.47,806.6 575.45,804.75 577.48,802.9 579.56,801.05 581.69,799.2 583.87,797.35 586.11,795.5" fill="none" stroke="#7a3c00" stroke-width="1.25" stroke-dasharray="2 1.8"/>
<path d="M550.3 891.8L620.7 861.8" fill="none" stroke="#000" stroke-width="1.5"/>
<path d="M583.2 876.6l4.3-1.2l-1.2 2.6l-2.8 0.6z" fill="#fff" stroke="#000" stroke-width="0.9"/>
<circle cx="579.5" cy="879.4" r="2.6" fill="#f00"/>
<path d="M642.5 837L650 834.8L657.5 833.2" fill="none" stroke="#000" stroke-width="1.2"/>
<path d="M651 835.5L652.5 831.5L657 831.2L658.5 834.5L656 836.2z" fill="#00f" stroke="#00f" stroke-width="0.8"/>
<path d="M650 828L659 837M650 837L659 828" stroke="#f00" stroke-width="1" fill="none"/>
<rect x="803" y="802" width="152" height="1" fill="#1a1a1a"/>
<rect x="795" y="950" width="160" height="1" fill="#1a1a1a"/>
<rect x="803" y="802" width="1" height="149" fill="#1a1a1a"/>
<rect x="954" y="802" width="1" height="157" fill="#1a1a1a"/>
<rect x="795" y="950" width="8" height="1" fill="#1a1a1a"/>
<text x="764.82" y="954.5" font-size="12"><tspan textLength="5.6" lengthAdjust="spacingAndGlyphs">-</tspan><tspan>40.</tspan></text>
<rect x="799" y="948" width="4" height="1" fill="#1a1a1a"/>
<rect x="799" y="946" width="4" height="1" fill="#1a1a1a"/>
<rect x="799" y="944" width="4" height="1" fill="#1a1a1a"/>
<rect x="799" y="943" width="4" height="1" fill="#1a1a1a"/>
<rect x="799" y="941" width="4" height="1" fill="#1a1a1a"/>
<rect x="799" y="939" width="4" height="1" fill="#1a1a1a"/>
<rect x="799" y="937" width="4" height="1" fill="#1a1a1a"/>
<rect x="799" y="935" width="4" height="1" fill="#1a1a1a"/>
<rect x="799" y="933" width="4" height="1" fill="#1a1a1a"/>
<rect x="795" y="931" width="8" height="1" fill="#1a1a1a"/>
<text x="764.82" y="935.5" font-size="12"><tspan textLength="5.6" lengthAdjust="spacingAndGlyphs">-</tspan><tspan>30.</tspan></text>
<rect x="799" y="930" width="4" height="1" fill="#1a1a1a"/>
<rect x="799" y="928" width="4" height="1" fill="#1a1a1a"/>
<rect x="799" y="926" width="4" height="1" fill="#1a1a1a"/>
<rect x="799" y="924" width="4" height="1" fill="#1a1a1a"/>
<rect x="799" y="922" width="4" height="1" fill="#1a1a1a"/>
<rect x="799" y="920" width="4" height="1" fill="#1a1a1a"/>
<rect x="799" y="919" width="4" height="1" fill="#1a1a1a"/>
<rect x="799" y="917" width="4" height="1" fill="#1a1a1a"/>
<rect x="799" y="915" width="4" height="1" fill="#1a1a1a"/>
<rect x="795" y="913" width="8" height="1" fill="#1a1a1a"/>
<text x="764.82" y="917.5" font-size="12"><tspan textLength="5.6" lengthAdjust="spacingAndGlyphs">-</tspan><tspan>20.</tspan></text>
<rect x="799" y="911" width="4" height="1" fill="#1a1a1a"/>
<rect x="799" y="909" width="4" height="1" fill="#1a1a1a"/>
<rect x="799" y="907" width="4" height="1" fill="#1a1a1a"/>
<rect x="799" y="906" width="4" height="1" fill="#1a1a1a"/>
<rect x="799" y="904" width="4" height="1" fill="#1a1a1a"/>
<rect x="799" y="902" width="4" height="1" fill="#1a1a1a"/>
<rect x="799" y="900" width="4" height="1" fill="#1a1a1a"/>
<rect x="799" y="898" width="4" height="1" fill="#1a1a1a"/>
<rect x="799" y="896" width="4" height="1" fill="#1a1a1a"/>
<rect x="795" y="894" width="8" height="1" fill="#1a1a1a"/>
<text x="764.82" y="898.5" font-size="12"><tspan textLength="5.6" lengthAdjust="spacingAndGlyphs">-</tspan><tspan>10.</tspan></text>
<rect x="799" y="893" width="4" height="1" fill="#1a1a1a"/>
<rect x="799" y="891" width="4" height="1" fill="#1a1a1a"/>
<rect x="799" y="889" width="4" height="1" fill="#1a1a1a"/>
<rect x="799" y="887" width="4" height="1" fill="#1a1a1a"/>
<rect x="799" y="885" width="4" height="1" fill="#1a1a1a"/>
<rect x="799" y="883" width="4" height="1" fill="#1a1a1a"/>
<rect x="799" y="882" width="4" height="1" fill="#1a1a1a"/>
<rect x="799" y="880" width="4" height="1" fill="#1a1a1a"/>
<rect x="799" y="878" width="4" height="1" fill="#1a1a1a"/>
<rect x="795" y="876" width="8" height="1" fill="#1a1a1a"/>
<text x="789.5" y="880.5" text-anchor="end" font-size="12">0.</text>
<rect x="799" y="874" width="4" height="1" fill="#1a1a1a"/>
<rect x="799" y="872" width="4" height="1" fill="#1a1a1a"/>
<rect x="799" y="870" width="4" height="1" fill="#1a1a1a"/>
<rect x="799" y="869" width="4" height="1" fill="#1a1a1a"/>
<rect x="799" y="867" width="4" height="1" fill="#1a1a1a"/>
<rect x="799" y="865" width="4" height="1" fill="#1a1a1a"/>
<rect x="799" y="863" width="4" height="1" fill="#1a1a1a"/>
<rect x="799" y="861" width="4" height="1" fill="#1a1a1a"/>
<rect x="799" y="859" width="4" height="1" fill="#1a1a1a"/>
<rect x="795" y="857" width="8" height="1" fill="#1a1a1a"/>
<text x="789.5" y="861.5" text-anchor="end" font-size="12">10.</text>
<rect x="799" y="856" width="4" height="1" fill="#1a1a1a"/>
<rect x="799" y="854" width="4" height="1" fill="#1a1a1a"/>
<rect x="799" y="852" width="4" height="1" fill="#1a1a1a"/>
<rect x="799" y="850" width="4" height="1" fill="#1a1a1a"/>
<rect x="799" y="848" width="4" height="1" fill="#1a1a1a"/>
<rect x="799" y="846" width="4" height="1" fill="#1a1a1a"/>
<rect x="799" y="844" width="4" height="1" fill="#1a1a1a"/>
<rect x="799" y="843" width="4" height="1" fill="#1a1a1a"/>
<rect x="799" y="841" width="4" height="1" fill="#1a1a1a"/>
<rect x="795" y="839" width="8" height="1" fill="#1a1a1a"/>
<text x="789.5" y="843.5" text-anchor="end" font-size="12">20.</text>
<rect x="799" y="837" width="4" height="1" fill="#1a1a1a"/>
<rect x="799" y="835" width="4" height="1" fill="#1a1a1a"/>
<rect x="799" y="833" width="4" height="1" fill="#1a1a1a"/>
<rect x="799" y="832" width="4" height="1" fill="#1a1a1a"/>
<rect x="799" y="830" width="4" height="1" fill="#1a1a1a"/>
<rect x="799" y="828" width="4" height="1" fill="#1a1a1a"/>
<rect x="799" y="826" width="4" height="1" fill="#1a1a1a"/>
<rect x="799" y="824" width="4" height="1" fill="#1a1a1a"/>
<rect x="799" y="822" width="4" height="1" fill="#1a1a1a"/>
<rect x="795" y="820" width="8" height="1" fill="#1a1a1a"/>
<text x="789.5" y="824.5" text-anchor="end" font-size="12">30.</text>
<rect x="799" y="819" width="4" height="1" fill="#1a1a1a"/>
<rect x="799" y="817" width="4" height="1" fill="#1a1a1a"/>
<rect x="799" y="815" width="4" height="1" fill="#1a1a1a"/>
<rect x="799" y="813" width="4" height="1" fill="#1a1a1a"/>
<rect x="799" y="811" width="4" height="1" fill="#1a1a1a"/>
<rect x="799" y="809" width="4" height="1" fill="#1a1a1a"/>
<rect x="799" y="807" width="4" height="1" fill="#1a1a1a"/>
<rect x="799" y="806" width="4" height="1" fill="#1a1a1a"/>
<rect x="799" y="804" width="4" height="1" fill="#1a1a1a"/>
<rect x="795" y="802" width="8" height="1" fill="#1a1a1a"/>
<text x="789.5" y="806.5" text-anchor="end" font-size="12">40.</text>
<rect x="804" y="950" width="1" height="9" fill="#1a1a1a"/>
<text x="791.46" y="973.6" font-size="12"><tspan textLength="5.6" lengthAdjust="spacingAndGlyphs">-</tspan><tspan>40.</tspan></text>
<rect x="823" y="950" width="1" height="5" fill="#1a1a1a"/>
<rect x="842" y="950" width="1" height="9" fill="#1a1a1a"/>
<text x="829.46" y="973.6" font-size="12"><tspan textLength="5.6" lengthAdjust="spacingAndGlyphs">-</tspan><tspan>20.</tspan></text>
<rect x="860" y="950" width="1" height="5" fill="#1a1a1a"/>
<rect x="879" y="950" width="1" height="9" fill="#1a1a1a"/>
<text x="878.8" y="973.6" text-anchor="middle" font-size="12">0.</text>
<rect x="898" y="950" width="1" height="5" fill="#1a1a1a"/>
<rect x="916" y="950" width="1" height="9" fill="#1a1a1a"/>
<text x="915.8" y="973.6" text-anchor="middle" font-size="12">20.</text>
<rect x="935" y="950" width="1" height="5" fill="#1a1a1a"/>
<rect x="954" y="950" width="1" height="9" fill="#1a1a1a"/>
<text x="953.8" y="973.6" text-anchor="middle" font-size="12">40.</text>
<text x="859" y="992" font-size="12"><tspan textLength="23.2" lengthAdjust="spacingAndGlyphs">KSM</tspan><tspan textLength="6.6" lengthAdjust="spacingAndGlyphs">-</tspan><tspan>Y</tspan></text>
<text transform="translate(755 876) rotate(-90)" x="-19" y="0" font-size="12"><tspan textLength="23.2" lengthAdjust="spacingAndGlyphs">KSM</tspan><tspan textLength="6.6" lengthAdjust="spacingAndGlyphs">-</tspan><tspan>Z</tspan></text>
<ellipse cx="880.5" cy="876.8" rx="38.4" ry="15.3" fill="none" stroke="#000" stroke-width="1.3"/>
<path d="M877.5 875.5h4.3q.5 1.8-1.4 3q-2.6 0-2.9-3z" fill="none" stroke="#000" stroke-width="0.9"/>
<circle cx="918" cy="879" r="2.4" fill="#f00"/>
<path d="M804 833.6L818 834L825 835L832 836.5" fill="none" stroke="#000" stroke-width="1.2"/>
<path d="M805.5 833.5L808.5 831L812.5 831.5L814 834L811.5 836L807.5 836z" fill="#00f" stroke="#00f" stroke-width="0.8"/>
<path d="M806.8 828L815.8 837M806.8 837L815.8 828" stroke="#f00" stroke-width="1" fill="none"/>
</svg>
</body></html>
